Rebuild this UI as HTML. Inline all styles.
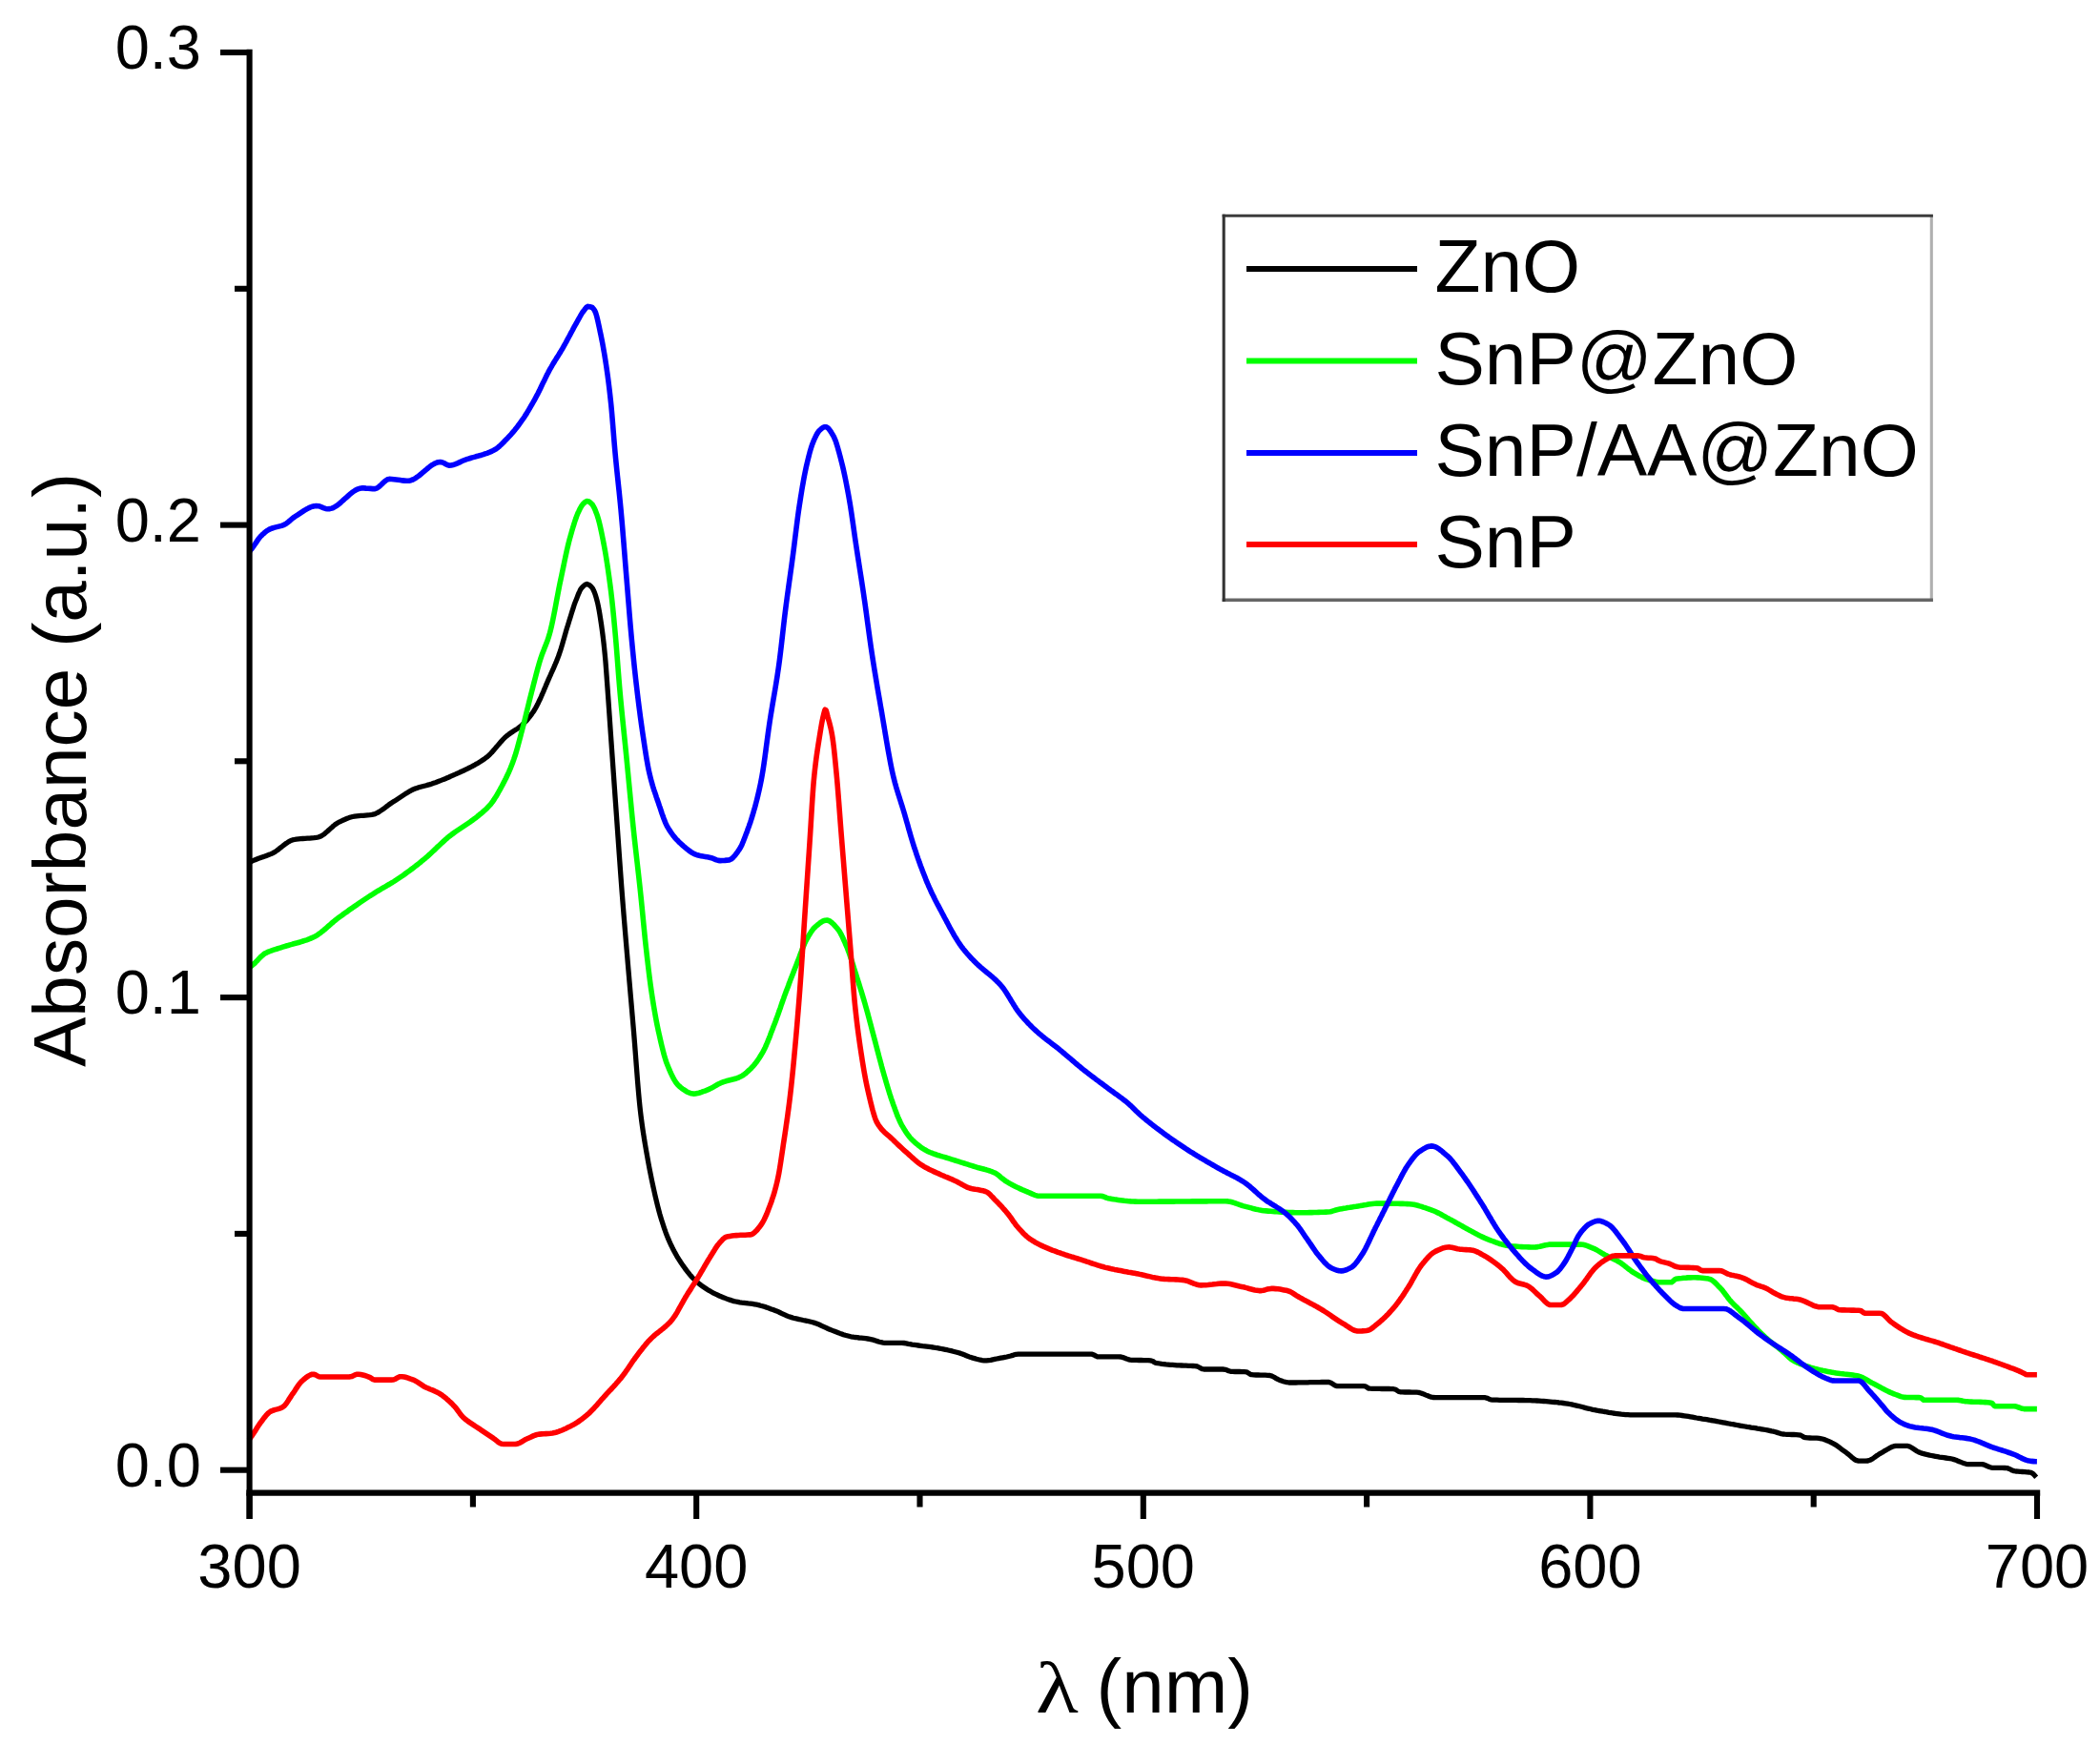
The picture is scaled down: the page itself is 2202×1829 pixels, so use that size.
<!DOCTYPE html>
<html><head><meta charset="utf-8"><title>UV-vis absorbance</title>
<style>
html,body{margin:0;padding:0;background:#fff;}
svg{display:block;}
text{font-family:"Liberation Sans",sans-serif;fill:#000;}
.tl text{font-size:65px;}
.lg text{font-size:78.5px;}
.c{fill:none;stroke-width:5.6;stroke-linejoin:round;stroke-linecap:butt;}
</style></head><body>
<svg width="2202" height="1829" viewBox="0 0 2202 1829">
<rect width="2202" height="1829" fill="#fff"/>
<g class="c">
<polyline stroke="#000" stroke-width="5.3" points="261.0,905.0 262.6,904.1 264.1,903.2 265.8,902.4 267.5,901.7 269.3,901.0 271.1,900.3 272.9,899.6 274.8,899.0 276.7,898.4 278.5,897.7 280.4,897.0 282.2,896.3 284.0,895.6 285.7,894.8 287.4,893.9 289.0,892.9 290.5,891.9 291.9,890.8 293.3,889.7 294.7,888.6 296.1,887.5 297.5,886.4 298.9,885.3 300.4,884.3 301.8,883.3 303.4,882.4 305.0,881.5 306.7,880.9 308.6,880.5 310.7,880.1 313.0,879.9 315.2,879.7 317.5,879.5 319.9,879.4 322.3,879.2 324.6,879.1 326.9,878.9 329.2,878.7 331.5,878.4 333.7,878.0 335.7,877.3 337.5,876.4 339.0,875.4 340.5,874.3 341.9,873.1 343.2,872.0 344.5,870.8 345.8,869.6 347.1,868.4 348.5,867.2 349.8,866.0 351.1,865.0 352.6,863.9 354.0,863.0 355.6,862.2 357.3,861.4 359.0,860.5 360.7,859.8 362.4,859.0 364.2,858.3 366.0,857.6 367.8,857.0 369.7,856.5 371.8,856.1 374.0,855.8 376.2,855.6 378.5,855.4 380.8,855.3 383.2,855.1 385.5,854.9 387.8,854.7 390.0,854.4 392.2,853.9 394.1,853.2 395.8,852.4 397.5,851.4 399.0,850.4 400.5,849.4 402.0,848.3 403.4,847.3 404.9,846.2 406.3,845.1 407.7,844.0 409.1,843.0 410.6,842.0 412.1,841.1 413.7,840.1 415.2,839.1 416.7,838.1 418.2,837.1 419.7,836.1 421.2,835.1 422.7,834.1 424.2,833.1 425.7,832.1 427.3,831.2 428.8,830.3 430.4,829.4 432.0,828.5 433.7,827.7 435.4,827.0 437.2,826.4 439.1,825.8 441.0,825.2 442.9,824.7 444.9,824.2 446.9,823.7 448.9,823.1 450.9,822.6 452.8,822.0 454.7,821.3 456.5,820.7 458.4,820.0 460.2,819.3 462.0,818.6 463.8,817.9 465.6,817.2 467.4,816.5 469.1,815.7 470.9,815.0 472.6,814.2 474.4,813.4 476.1,812.6 477.8,811.9 479.5,811.1 481.3,810.3 483.0,809.5 484.7,808.8 486.4,808.0 488.1,807.2 489.8,806.3 491.5,805.5 493.2,804.7 494.8,803.8 496.5,802.9 498.1,802.1 499.7,801.1 501.3,800.2 502.8,799.3 504.4,798.3 505.9,797.3 507.4,796.3 508.9,795.2 510.3,794.2 511.7,793.0 513.1,791.8 514.3,790.5 515.6,789.2 516.8,787.8 517.9,786.5 519.1,785.1 520.2,783.8 521.4,782.4 522.5,781.1 523.7,779.7 524.8,778.4 526.0,777.1 527.2,775.8 528.4,774.5 529.6,773.3 530.9,772.2 532.3,771.1 533.7,770.0 535.1,769.0 536.6,768.0 538.1,767.0 539.6,766.1 541.2,765.1 542.7,764.1 544.2,763.0 545.6,761.9 547.0,760.7 548.3,759.5 549.6,758.3 550.9,757.0 552.1,755.7 553.3,754.3 554.4,752.9 555.5,751.5 556.6,750.1 557.7,748.6 558.7,747.1 559.8,745.6 560.7,744.0 561.7,742.4 562.6,740.8 563.4,739.1 564.3,737.4 565.1,735.7 565.9,734.0 566.7,732.3 567.5,730.5 568.2,728.8 569.0,727.0 569.8,725.3 570.5,723.5 571.2,721.8 572.0,720.0 572.7,718.2 573.5,716.5 574.2,714.7 575.0,713.0 575.7,711.3 576.5,709.5 577.3,707.8 578.0,706.1 578.8,704.4 579.6,702.6 580.4,700.9 581.1,699.2 581.9,697.4 582.6,695.6 583.4,693.8 584.1,692.0 584.8,690.2 585.5,688.4 586.2,686.5 586.8,684.6 587.5,682.7 588.1,680.8 588.7,678.8 589.3,676.8 589.9,674.7 590.5,672.6 591.1,670.5 591.7,668.4 592.3,666.3 592.9,664.2 593.5,662.1 594.1,660.1 594.7,658.1 595.3,656.2 595.9,654.2 596.5,652.3 597.1,650.3 597.7,648.4 598.3,646.4 598.9,644.5 599.5,642.5 600.1,640.6 600.7,638.8 601.3,636.9 601.9,635.0 602.5,633.2 603.2,631.4 603.9,629.6 604.6,627.9 605.3,626.1 606.0,624.3 606.7,622.5 607.5,620.8 608.2,619.2 609.1,617.7 610.1,616.4 611.3,615.2 612.5,614.0 613.8,613.0 615.4,612.5 617.9,613.4 619.3,614.7 620.6,616.0 621.7,617.6 622.6,619.5 623.4,621.4 624.1,623.3 624.7,625.3 625.3,627.3 625.9,629.5 626.5,631.8 627.1,634.5 627.7,637.5 628.3,640.8 628.9,644.3 629.5,648.1 630.1,652.0 630.7,656.0 631.3,660.3 631.9,664.8 632.5,669.7 633.1,674.9 633.7,680.5 634.3,686.5 634.9,693.1 635.5,700.7 636.1,709.0 636.7,717.2 637.3,725.5 637.9,734.0 638.5,742.6 639.1,751.3 639.7,760.0 640.3,768.7 640.9,777.2 641.5,785.7 642.1,794.3 642.7,802.8 643.3,811.3 643.9,819.8 644.5,828.2 645.1,836.7 645.7,845.1 646.3,853.5 646.9,862.0 647.5,870.5 648.1,879.0 648.7,887.5 649.3,896.0 649.9,904.4 650.5,912.8 651.1,921.0 651.7,929.1 652.3,937.0 652.9,944.7 653.5,952.3 654.1,959.7 654.7,967.0 655.3,974.2 655.9,981.4 656.5,988.5 657.1,995.6 657.7,1002.6 658.3,1009.7 658.9,1016.8 659.5,1023.8 660.1,1030.8 660.7,1037.8 661.3,1044.7 661.9,1051.6 662.5,1058.5 663.1,1065.5 663.7,1072.5 664.3,1079.5 664.9,1086.8 665.5,1094.3 666.1,1102.0 666.7,1109.9 667.3,1117.7 667.9,1125.5 668.5,1133.2 669.1,1140.5 669.7,1147.5 670.3,1154.1 670.9,1160.1 671.5,1165.5 672.1,1170.5 672.7,1175.1 673.3,1179.6 673.9,1183.8 674.5,1187.8 675.1,1191.7 675.7,1195.5 676.3,1199.1 676.9,1202.6 677.5,1206.1 678.1,1209.5 678.7,1212.9 679.3,1216.3 679.9,1219.6 680.5,1222.9 681.1,1226.0 681.7,1229.1 682.3,1232.1 682.9,1235.1 683.5,1238.0 684.1,1240.8 684.7,1243.6 685.3,1246.3 685.9,1249.0 686.5,1251.7 687.1,1254.3 687.7,1256.8 688.3,1259.4 688.9,1261.9 689.5,1264.3 690.1,1266.7 690.7,1269.0 691.3,1271.2 691.9,1273.4 692.5,1275.4 693.1,1277.4 693.7,1279.4 694.3,1281.3 694.9,1283.1 695.5,1285.0 696.1,1286.9 696.7,1288.7 697.4,1290.5 698.0,1292.4 698.7,1294.2 699.4,1295.9 700.1,1297.7 700.8,1299.5 701.6,1301.2 702.3,1302.9 703.1,1304.6 703.9,1306.3 704.7,1307.9 705.5,1309.6 706.4,1311.2 707.2,1312.8 708.1,1314.4 709.0,1316.0 709.9,1317.6 710.8,1319.1 711.8,1320.7 712.8,1322.2 713.7,1323.7 714.7,1325.1 715.7,1326.6 716.8,1328.1 717.8,1329.5 718.8,1331.0 719.9,1332.4 721.0,1333.8 722.1,1335.2 723.2,1336.6 724.3,1337.9 725.5,1339.2 726.7,1340.5 727.9,1341.7 729.2,1342.9 730.5,1344.1 731.8,1345.2 733.1,1346.3 734.5,1347.4 735.9,1348.5 737.4,1349.5 738.9,1350.5 740.4,1351.5 741.9,1352.5 743.4,1353.4 745.0,1354.3 746.6,1355.2 748.2,1356.1 749.8,1356.9 751.5,1357.7 753.2,1358.5 754.9,1359.3 756.7,1360.0 758.4,1360.7 760.2,1361.4 762.0,1362.1 763.8,1362.8 765.7,1363.4 767.6,1364.0 769.5,1364.6 771.5,1365.0 773.6,1365.4 775.7,1365.8 777.9,1366.1 780.1,1366.3 782.3,1366.6 784.5,1366.9 786.8,1367.1 789.0,1367.4 791.2,1367.8 793.3,1368.2 795.4,1368.6 797.4,1369.2 799.4,1369.7 801.3,1370.3 803.2,1370.9 805.1,1371.6 806.9,1372.2 808.8,1372.9 810.6,1373.5 812.4,1374.2 814.3,1374.9 816.0,1375.7 817.7,1376.5 819.4,1377.3 821.1,1378.1 822.8,1378.9 824.5,1379.7 826.3,1380.4 828.1,1381.0 830.0,1381.6 831.9,1382.2 833.9,1382.7 835.9,1383.1 837.9,1383.6 840.0,1384.0 842.0,1384.5 844.1,1384.9 846.2,1385.3 848.2,1385.8 850.2,1386.3 852.2,1386.8 854.2,1387.4 856.1,1388.0 857.9,1388.7 859.7,1389.5 861.4,1390.3 863.1,1391.1 864.8,1391.9 866.5,1392.7 868.2,1393.5 870.0,1394.2 871.7,1394.9 873.5,1395.6 875.3,1396.3 877.2,1397.0 879.0,1397.7 880.8,1398.4 882.6,1399.0 884.4,1399.7 886.3,1400.3 888.2,1400.8 890.2,1401.3 892.2,1401.8 894.3,1402.1 896.5,1402.5 898.7,1402.7 900.9,1403.0 903.2,1403.2 905.4,1403.4 907.7,1403.7 909.9,1404.0 912.1,1404.3 914.2,1404.8 916.2,1405.4 918.1,1406.0 920.0,1406.6 921.9,1407.2 923.9,1407.7 925.9,1408.1 928.0,1408.3 930.5,1408.3 933.0,1408.3 935.5,1408.3 938.0,1408.3 940.5,1408.3 943.0,1408.3 945.5,1408.3 947.9,1408.5 950.2,1408.8 952.3,1409.3 954.3,1409.7 956.4,1410.1 958.5,1410.4 960.7,1410.7 962.9,1411.0 965.1,1411.3 967.4,1411.6 969.6,1411.8 971.8,1412.1 974.0,1412.4 976.2,1412.7 978.4,1413.0 980.6,1413.4 982.8,1413.7 984.9,1414.1 987.0,1414.5 989.1,1414.9 991.2,1415.3 993.3,1415.7 995.3,1416.2 997.4,1416.7 999.4,1417.2 1001.4,1417.7 1003.4,1418.2 1005.3,1418.8 1007.3,1419.4 1009.1,1420.0 1010.9,1420.7 1012.7,1421.5 1014.5,1422.2 1016.3,1422.9 1018.1,1423.5 1020.0,1424.1 1021.9,1424.6 1023.9,1425.2 1025.9,1425.7 1027.8,1426.2 1029.9,1426.6 1032.0,1426.9 1034.4,1426.9 1036.7,1426.6 1038.9,1426.3 1041.0,1425.8 1043.1,1425.4 1045.2,1425.0 1047.3,1424.6 1049.4,1424.2 1051.5,1423.8 1053.6,1423.4 1055.7,1423.0 1057.7,1422.5 1059.8,1422.0 1061.8,1421.4 1063.6,1420.8 1065.5,1420.3 1067.7,1420.2 1070.2,1420.2 1072.7,1420.2 1075.2,1420.2 1077.7,1420.2 1080.2,1420.2 1082.7,1420.2 1085.2,1420.2 1087.7,1420.2 1090.2,1420.2 1092.7,1420.2 1095.2,1420.2 1097.7,1420.2 1100.2,1420.2 1102.7,1420.2 1105.2,1420.2 1107.7,1420.2 1110.2,1420.2 1112.7,1420.2 1115.2,1420.2 1117.7,1420.2 1120.2,1420.2 1122.7,1420.2 1125.2,1420.2 1127.7,1420.2 1130.2,1420.2 1132.7,1420.2 1135.2,1420.2 1137.7,1420.2 1140.2,1420.2 1142.7,1420.2 1145.2,1420.2 1147.7,1421.2 1149.2,1422.2 1150.7,1422.9 1152.8,1422.9 1155.3,1422.9 1157.8,1422.9 1160.3,1422.9 1162.8,1422.9 1165.3,1422.9 1167.8,1422.9 1170.3,1422.9 1172.8,1422.9 1175.3,1423.0 1177.4,1423.6 1179.3,1424.3 1181.1,1425.0 1182.9,1425.6 1184.8,1426.1 1187.0,1426.3 1189.4,1426.4 1191.8,1426.4 1194.2,1426.5 1196.7,1426.5 1199.1,1426.6 1201.6,1426.6 1204.0,1426.7 1206.4,1426.9 1208.8,1427.5 1210.3,1428.6 1211.8,1429.3 1213.9,1429.7 1216.0,1430.0 1218.1,1430.4 1220.3,1430.6 1222.6,1430.9 1224.9,1431.1 1227.2,1431.3 1229.5,1431.4 1231.8,1431.6 1234.1,1431.8 1236.5,1431.9 1238.9,1432.0 1241.3,1432.1 1243.7,1432.2 1246.1,1432.3 1248.5,1432.4 1250.9,1432.5 1253.2,1432.7 1255.5,1433.0 1257.4,1434.0 1259.0,1434.9 1260.5,1435.7 1262.3,1436.0 1264.8,1436.0 1267.3,1436.0 1269.8,1436.0 1272.3,1436.0 1274.8,1436.0 1277.3,1436.0 1279.8,1436.0 1282.3,1436.0 1284.8,1436.3 1286.8,1437.0 1288.5,1437.8 1290.3,1438.3 1292.5,1438.4 1294.9,1438.5 1297.4,1438.5 1299.8,1438.5 1302.3,1438.6 1304.7,1438.7 1307.1,1438.8 1309.4,1440.2 1310.8,1441.2 1312.3,1441.7 1314.6,1441.9 1317.0,1442.0 1319.4,1442.0 1321.8,1442.1 1324.3,1442.1 1326.8,1442.2 1329.2,1442.3 1331.6,1442.5 1333.7,1443.1 1335.5,1444.0 1337.1,1444.9 1338.7,1445.9 1340.2,1446.7 1341.8,1447.5 1343.6,1448.1 1345.5,1448.7 1347.5,1449.2 1349.4,1449.7 1351.5,1450.0 1353.9,1450.0 1356.4,1450.0 1358.9,1450.0 1361.3,1449.9 1363.8,1449.9 1366.3,1449.9 1368.7,1449.8 1371.2,1449.8 1373.6,1449.7 1376.1,1449.7 1378.6,1449.6 1381.0,1449.6 1383.5,1449.6 1385.9,1449.5 1388.4,1449.5 1390.9,1449.5 1393.4,1449.5 1395.6,1450.3 1397.2,1451.3 1398.8,1452.3 1400.3,1453.1 1402.1,1453.6 1404.3,1453.6 1406.8,1453.6 1409.3,1453.6 1411.8,1453.6 1414.3,1453.6 1416.8,1453.6 1419.3,1453.6 1421.8,1453.6 1424.3,1453.6 1426.8,1453.6 1429.3,1453.6 1431.8,1453.8 1433.5,1455.0 1434.9,1456.0 1436.6,1456.2 1439.0,1456.3 1441.4,1456.4 1443.9,1456.4 1446.4,1456.4 1448.8,1456.5 1451.3,1456.5 1453.8,1456.5 1456.3,1456.5 1458.7,1456.6 1461.2,1456.7 1463.6,1457.3 1465.1,1458.4 1466.6,1459.4 1468.2,1459.8 1470.6,1459.9 1473.0,1460.0 1475.4,1460.0 1477.9,1460.0 1480.4,1460.1 1482.8,1460.1 1485.3,1460.2 1487.7,1460.4 1489.8,1461.0 1491.7,1461.6 1493.5,1462.3 1495.3,1463.1 1497.1,1463.8 1498.8,1464.5 1500.7,1465.1 1502.6,1465.5 1504.8,1465.7 1507.3,1465.7 1509.8,1465.7 1512.3,1465.7 1514.8,1465.7 1517.3,1465.7 1519.8,1465.7 1522.3,1465.7 1524.8,1465.7 1527.3,1465.7 1529.8,1465.7 1532.3,1465.7 1534.8,1465.7 1537.3,1465.7 1539.8,1465.7 1542.3,1465.7 1544.8,1465.7 1547.3,1465.7 1549.8,1465.7 1552.3,1465.7 1554.8,1465.7 1557.3,1465.7 1559.7,1466.4 1561.4,1467.2 1563.1,1467.9 1565.0,1468.1 1567.4,1468.2 1569.9,1468.2 1572.3,1468.3 1574.8,1468.3 1577.3,1468.4 1579.7,1468.4 1582.2,1468.4 1584.7,1468.4 1587.2,1468.4 1589.7,1468.4 1592.2,1468.5 1594.6,1468.5 1597.1,1468.5 1599.6,1468.6 1602.0,1468.6 1604.5,1468.7 1606.9,1468.8 1609.3,1468.9 1611.7,1469.0 1614.0,1469.1 1616.4,1469.3 1618.7,1469.5 1621.0,1469.7 1623.4,1469.9 1625.7,1470.1 1627.9,1470.3 1630.2,1470.5 1632.5,1470.7 1634.7,1471.0 1637.0,1471.2 1639.2,1471.5 1641.5,1471.8 1643.7,1472.1 1645.8,1472.5 1647.9,1472.9 1650.0,1473.4 1652.0,1473.8 1654.1,1474.3 1656.1,1474.8 1658.1,1475.3 1660.0,1475.8 1662.0,1476.4 1664.0,1476.9 1666.0,1477.3 1668.0,1477.8 1670.1,1478.3 1672.1,1478.7 1674.2,1479.1 1676.3,1479.5 1678.5,1479.8 1680.6,1480.2 1682.8,1480.5 1684.9,1480.9 1687.0,1481.3 1689.2,1481.6 1691.3,1482.0 1693.5,1482.3 1695.7,1482.6 1697.9,1482.9 1700.1,1483.2 1702.3,1483.4 1704.6,1483.6 1707.0,1483.7 1709.4,1483.8 1711.8,1483.8 1714.3,1483.8 1716.8,1483.8 1719.3,1483.8 1721.8,1483.8 1724.3,1483.8 1726.8,1483.8 1729.3,1483.8 1731.8,1483.8 1734.3,1483.8 1736.8,1483.8 1739.3,1483.8 1741.8,1483.8 1744.3,1483.8 1746.8,1483.8 1749.3,1483.8 1751.8,1483.8 1754.3,1483.8 1756.8,1483.9 1759.2,1484.0 1761.5,1484.2 1763.8,1484.5 1766.0,1484.8 1768.2,1485.1 1770.4,1485.4 1772.5,1485.8 1774.6,1486.2 1776.7,1486.6 1778.9,1487.0 1781.0,1487.3 1783.1,1487.7 1785.2,1488.1 1787.4,1488.4 1789.6,1488.7 1791.7,1489.1 1793.8,1489.5 1796.0,1489.8 1798.1,1490.2 1800.2,1490.6 1802.3,1491.0 1804.4,1491.4 1806.6,1491.8 1808.7,1492.2 1810.8,1492.6 1812.9,1493.0 1815.0,1493.4 1817.1,1493.7 1819.2,1494.1 1821.3,1494.5 1823.4,1494.9 1825.5,1495.3 1827.7,1495.7 1829.8,1496.0 1831.9,1496.4 1834.1,1496.7 1836.2,1497.1 1838.4,1497.4 1840.6,1497.7 1842.7,1498.1 1844.9,1498.4 1847.0,1498.8 1849.2,1499.2 1851.3,1499.5 1853.4,1499.9 1855.5,1500.3 1857.6,1500.8 1859.6,1501.2 1861.7,1501.8 1863.6,1502.4 1865.5,1503.0 1867.3,1503.6 1869.3,1504.0 1871.5,1504.2 1873.8,1504.3 1876.2,1504.4 1878.7,1504.5 1881.1,1504.5 1883.5,1504.6 1885.9,1504.8 1888.2,1505.2 1890.0,1506.2 1891.5,1507.2 1893.1,1507.7 1895.4,1507.9 1897.7,1508.0 1900.1,1508.1 1902.6,1508.1 1905.0,1508.2 1907.4,1508.4 1909.7,1508.8 1911.7,1509.3 1913.6,1509.9 1915.5,1510.7 1917.2,1511.4 1918.9,1512.2 1920.6,1513.0 1922.3,1513.9 1924.0,1514.8 1925.5,1515.8 1927.0,1516.8 1928.5,1517.9 1929.9,1519.0 1931.3,1520.1 1932.7,1521.1 1934.2,1522.2 1935.6,1523.2 1937.1,1524.3 1938.5,1525.4 1939.8,1526.6 1941.2,1527.8 1942.5,1528.9 1943.9,1530.0 1945.3,1531.0 1946.9,1531.7 1948.7,1532.1 1951.1,1532.1 1953.6,1532.1 1956.1,1532.1 1958.6,1532.0 1960.8,1531.3 1962.5,1530.4 1964.1,1529.4 1965.6,1528.4 1967.0,1527.3 1968.5,1526.3 1969.9,1525.3 1971.5,1524.4 1973.1,1523.5 1974.7,1522.6 1976.3,1521.6 1977.8,1520.7 1979.4,1519.8 1980.9,1518.9 1982.6,1518.0 1984.2,1517.3 1986.0,1516.7 1988.0,1516.3 1990.3,1516.3 1992.8,1516.3 1995.3,1516.3 1997.8,1516.3 2000.3,1516.4 2002.4,1517.1 2004.1,1518.0 2005.7,1519.0 2007.2,1520.0 2008.7,1521.0 2010.2,1522.0 2011.8,1522.8 2013.4,1523.5 2015.3,1524.1 2017.3,1524.6 2019.2,1525.2 2021.2,1525.6 2023.3,1526.1 2025.3,1526.5 2027.4,1526.9 2029.5,1527.3 2031.6,1527.7 2033.7,1528.1 2035.9,1528.4 2038.1,1528.7 2040.3,1529.0 2042.5,1529.3 2044.7,1529.6 2046.8,1530.0 2048.9,1530.6 2050.8,1531.2 2052.6,1532.0 2054.3,1532.7 2056.1,1533.4 2057.9,1534.1 2059.7,1534.8 2061.6,1535.3 2063.6,1535.6 2065.9,1535.7 2068.4,1535.7 2070.9,1535.7 2073.4,1535.7 2075.9,1535.7 2078.4,1535.7 2080.7,1536.2 2082.6,1537.0 2084.3,1537.8 2086.0,1538.5 2087.8,1539.1 2089.8,1539.3 2092.3,1539.4 2094.8,1539.4 2097.2,1539.4 2099.7,1539.4 2102.2,1539.5 2104.6,1539.6 2106.7,1540.4 2108.4,1541.2 2110.0,1542.1 2111.7,1542.7 2113.7,1543.0 2116.0,1543.2 2118.3,1543.4 2120.7,1543.5 2123.1,1543.6 2125.4,1543.8 2127.7,1544.0 2129.9,1544.4 2131.8,1545.6 2133.1,1546.9 2134.3,1548.3 2135.2,1549.3"/>
<polyline stroke="#0f0" points="261.0,1015.0 262.5,1014.0 263.9,1012.9 265.3,1011.7 266.7,1010.5 268.0,1009.2 269.2,1007.9 270.4,1006.7 271.6,1005.4 272.8,1004.1 274.1,1002.9 275.4,1001.8 276.7,1000.7 278.2,999.7 279.8,998.9 281.5,998.2 283.2,997.5 285.0,996.8 286.9,996.2 288.8,995.6 290.7,995.0 292.6,994.4 294.5,993.8 296.4,993.2 298.3,992.6 300.2,992.0 302.1,991.5 304.1,990.9 306.0,990.4 308.0,989.8 310.0,989.3 311.9,988.8 313.9,988.2 315.8,987.6 317.7,987.0 319.6,986.4 321.5,985.8 323.3,985.1 325.2,984.4 326.9,983.6 328.7,982.9 330.4,982.0 332.0,981.1 333.5,980.1 335.0,979.0 336.5,977.9 337.9,976.8 339.3,975.7 340.7,974.5 342.0,973.4 343.3,972.2 344.7,971.0 346.0,969.9 347.3,968.7 348.7,967.5 350.0,966.4 351.4,965.3 352.7,964.2 354.1,963.1 355.6,962.0 357.0,961.0 358.5,959.9 359.9,958.9 361.4,957.8 362.8,956.8 364.3,955.8 365.7,954.7 367.2,953.7 368.7,952.7 370.1,951.6 371.6,950.6 373.1,949.6 374.6,948.6 376.1,947.5 377.5,946.5 379.0,945.5 380.5,944.5 382.0,943.5 383.5,942.5 385.0,941.5 386.5,940.5 388.0,939.5 389.5,938.6 391.1,937.6 392.6,936.6 394.1,935.6 395.6,934.7 397.2,933.8 398.8,932.8 400.3,931.9 401.9,931.0 403.5,930.1 405.1,929.2 406.7,928.2 408.3,927.3 409.8,926.4 411.4,925.5 413.0,924.5 414.5,923.5 416.0,922.5 417.5,921.5 419.0,920.5 420.5,919.5 422.0,918.5 423.5,917.4 424.9,916.4 426.4,915.3 427.8,914.3 429.3,913.2 430.7,912.1 432.1,911.1 433.6,910.0 435.0,908.9 436.4,907.8 437.8,906.7 439.2,905.6 440.6,904.5 441.9,903.4 443.3,902.2 444.7,901.1 446.1,900.0 447.4,898.8 448.8,897.6 450.1,896.4 451.4,895.2 452.7,894.0 454.0,892.8 455.3,891.6 456.6,890.4 457.8,889.1 459.1,887.9 460.4,886.7 461.7,885.5 463.0,884.3 464.3,883.1 465.6,881.9 466.9,880.7 468.2,879.6 469.5,878.4 470.9,877.3 472.3,876.2 473.7,875.1 475.1,874.1 476.6,873.0 478.0,872.0 479.5,871.0 481.0,870.0 482.5,869.0 484.0,868.0 485.5,867.0 487.0,866.0 488.5,865.0 490.0,864.0 491.5,863.0 493.0,862.0 494.4,860.9 495.9,859.9 497.3,858.8 498.8,857.7 500.2,856.6 501.5,855.5 502.9,854.3 504.3,853.2 505.7,852.1 507.0,850.9 508.4,849.7 509.7,848.5 511.0,847.2 512.2,845.9 513.4,844.6 514.6,843.3 515.7,841.8 516.8,840.4 517.8,838.9 518.8,837.3 519.8,835.8 520.8,834.2 521.7,832.6 522.6,831.0 523.5,829.4 524.4,827.8 525.3,826.1 526.2,824.5 527.1,822.9 527.9,821.2 528.8,819.6 529.6,817.9 530.5,816.2 531.3,814.5 532.1,812.8 532.9,811.1 533.7,809.3 534.4,807.6 535.2,805.8 535.9,804.0 536.6,802.2 537.3,800.4 538.0,798.5 538.7,796.6 539.3,794.7 540.0,792.8 540.6,790.9 541.2,788.9 541.8,786.8 542.4,784.7 543.0,782.5 543.6,780.3 544.2,778.0 544.8,775.8 545.4,773.5 546.0,771.2 546.6,768.9 547.2,766.7 547.8,764.4 548.4,762.1 549.0,759.8 549.6,757.5 550.2,755.1 550.8,752.6 551.4,750.2 552.0,747.7 552.6,745.3 553.2,742.8 553.8,740.3 554.4,737.9 555.0,735.4 555.6,733.0 556.2,730.6 556.8,728.3 557.4,725.9 558.0,723.6 558.6,721.3 559.2,718.9 559.8,716.5 560.4,714.2 561.0,711.9 561.6,709.6 562.2,707.3 562.8,705.0 563.4,702.8 564.0,700.6 564.6,698.4 565.2,696.3 565.8,694.3 566.4,692.3 567.0,690.4 567.6,688.6 568.2,686.8 568.9,685.0 569.6,683.2 570.3,681.4 571.0,679.6 571.7,677.9 572.4,676.1 573.1,674.2 573.8,672.4 574.5,670.5 575.1,668.6 575.7,666.6 576.3,664.6 576.9,662.4 577.5,660.0 578.1,657.5 578.7,654.8 579.3,652.1 579.9,649.2 580.5,646.2 581.1,643.2 581.7,640.1 582.3,636.9 582.9,633.7 583.5,630.5 584.1,627.4 584.7,624.2 585.3,621.0 585.9,617.9 586.5,614.8 587.1,611.8 587.7,608.9 588.3,606.1 588.9,603.2 589.5,600.4 590.1,597.5 590.7,594.6 591.3,591.7 591.9,588.8 592.5,586.0 593.1,583.2 593.7,580.4 594.3,577.7 594.9,575.0 595.5,572.5 596.1,570.0 596.7,567.6 597.3,565.3 597.9,563.2 598.5,561.0 599.1,558.9 599.7,556.8 600.3,554.7 600.9,552.7 601.5,550.8 602.1,548.9 602.7,547.0 603.3,545.2 604.0,543.3 604.6,541.5 605.3,539.8 606.0,538.0 606.8,536.4 607.6,534.7 608.4,533.1 609.3,531.5 610.2,530.1 611.2,528.8 612.4,527.6 613.7,526.4 615.1,525.6 616.9,525.7 618.7,526.9 620.1,528.1 621.4,529.5 622.4,531.3 623.3,533.0 624.1,534.8 624.8,536.7 625.5,538.5 626.2,540.4 626.8,542.3 627.4,544.3 628.0,546.5 628.6,548.9 629.2,551.4 629.8,554.1 630.4,556.9 631.0,559.8 631.6,562.7 632.2,565.8 632.8,568.9 633.4,572.0 634.0,575.3 634.6,578.6 635.2,582.1 635.8,585.8 636.4,589.6 637.0,593.5 637.6,597.6 638.2,601.8 638.8,606.1 639.4,610.6 640.0,615.2 640.6,619.9 641.2,625.0 641.8,630.4 642.4,636.0 643.0,641.9 643.6,648.1 644.2,654.4 644.8,660.8 645.4,667.4 646.0,674.4 646.6,681.9 647.2,689.6 647.8,697.4 648.4,705.2 649.0,712.8 649.6,720.1 650.2,726.9 650.8,733.4 651.4,739.8 652.0,745.9 652.6,752.0 653.2,757.9 653.8,763.8 654.4,769.6 655.0,775.4 655.6,781.2 656.2,787.1 656.8,793.1 657.4,799.2 658.0,805.4 658.6,811.7 659.2,817.9 659.8,824.2 660.4,830.5 661.0,836.8 661.6,843.1 662.2,849.3 662.8,855.4 663.4,861.4 664.0,867.3 664.6,873.0 665.2,878.6 665.8,884.1 666.4,889.5 667.0,894.8 667.6,900.1 668.2,905.3 668.8,910.6 669.4,915.9 670.0,921.3 670.6,926.7 671.2,932.3 671.8,938.0 672.4,943.9 673.0,950.0 673.6,956.1 674.2,962.3 674.8,968.5 675.4,974.6 676.0,980.6 676.6,986.4 677.2,992.0 677.8,997.3 678.4,1002.6 679.0,1007.8 679.6,1012.9 680.2,1018.0 680.8,1022.8 681.4,1027.6 682.0,1032.1 682.6,1036.5 683.2,1040.6 683.8,1044.6 684.4,1048.5 685.0,1052.2 685.6,1055.9 686.2,1059.4 686.8,1062.9 687.4,1066.2 688.0,1069.5 688.6,1072.6 689.2,1075.6 689.8,1078.5 690.4,1081.3 691.0,1084.0 691.6,1086.7 692.2,1089.4 692.8,1092.0 693.4,1094.6 694.0,1097.1 694.6,1099.5 695.2,1101.9 695.8,1104.2 696.4,1106.4 697.0,1108.5 697.6,1110.5 698.2,1112.4 698.8,1114.3 699.5,1116.0 700.2,1117.8 700.9,1119.5 701.6,1121.3 702.4,1123.0 703.1,1124.7 703.9,1126.4 704.7,1128.1 705.5,1129.7 706.4,1131.3 707.3,1132.9 708.2,1134.4 709.2,1135.8 710.2,1137.1 711.4,1138.4 712.7,1139.5 714.0,1140.6 715.4,1141.7 716.8,1142.7 718.3,1143.7 719.8,1144.7 721.4,1145.5 723.1,1146.2 724.9,1146.8 726.9,1147.1 729.3,1147.0 731.5,1146.6 733.6,1146.0 735.5,1145.4 737.3,1144.7 739.2,1144.1 741.0,1143.4 742.8,1142.7 744.5,1141.8 746.2,1141.0 747.8,1140.1 749.4,1139.1 751.0,1138.2 752.6,1137.3 754.2,1136.5 755.9,1135.7 757.6,1135.0 759.4,1134.4 761.3,1133.8 763.3,1133.3 765.3,1132.8 767.3,1132.3 769.2,1131.8 771.2,1131.2 773.1,1130.6 775.0,1129.8 776.7,1129.0 778.4,1128.1 779.9,1127.1 781.4,1126.0 782.8,1124.8 784.1,1123.6 785.4,1122.4 786.7,1121.2 788.0,1119.9 789.2,1118.6 790.4,1117.3 791.6,1115.9 792.7,1114.4 793.8,1113.0 794.8,1111.5 795.8,1110.0 796.8,1108.4 797.8,1106.9 798.7,1105.3 799.7,1103.7 800.6,1102.1 801.4,1100.4 802.3,1098.7 803.1,1096.9 803.8,1095.1 804.6,1093.4 805.3,1091.6 806.0,1089.8 806.8,1088.0 807.5,1086.2 808.1,1084.3 808.8,1082.5 809.5,1080.7 810.2,1078.9 810.9,1077.1 811.6,1075.3 812.3,1073.5 813.0,1071.7 813.7,1069.8 814.3,1068.0 815.0,1066.1 815.7,1064.3 816.3,1062.4 817.0,1060.6 817.6,1058.7 818.3,1056.9 818.9,1055.0 819.5,1053.2 820.2,1051.3 820.8,1049.5 821.5,1047.6 822.1,1045.8 822.8,1043.9 823.5,1042.1 824.1,1040.3 824.8,1038.5 825.5,1036.7 826.2,1034.9 826.9,1033.0 827.5,1031.2 828.2,1029.4 828.9,1027.6 829.6,1025.8 830.3,1024.0 831.0,1022.2 831.7,1020.4 832.4,1018.6 833.1,1016.8 833.8,1015.0 834.5,1013.2 835.2,1011.4 835.9,1009.6 836.6,1007.8 837.3,1006.0 838.0,1004.2 838.7,1002.3 839.3,1000.5 840.0,998.7 840.7,996.9 841.4,995.1 842.1,993.3 842.8,991.6 843.5,989.9 844.3,988.2 845.1,986.6 846.0,985.0 846.9,983.4 847.7,981.8 848.7,980.2 849.6,978.7 850.6,977.2 851.6,975.8 852.6,974.4 853.7,973.1 855.0,972.0 856.3,970.8 857.6,969.7 859.0,968.6 860.4,967.5 861.9,966.6 863.4,965.7 865.2,965.2 867.2,965.0 869.5,965.7 871.2,966.8 872.6,968.0 873.9,969.2 875.1,970.5 876.3,971.9 877.5,973.2 878.7,974.6 879.8,976.1 880.8,977.7 881.7,979.4 882.6,981.1 883.4,982.8 884.2,984.5 885.0,986.3 885.8,988.0 886.5,989.8 887.3,991.6 888.0,993.3 888.7,995.1 889.4,997.0 890.1,998.8 890.8,1000.7 891.4,1002.6 892.0,1004.5 892.7,1006.4 893.3,1008.3 893.9,1010.2 894.5,1012.1 895.1,1014.1 895.7,1016.0 896.3,1017.9 896.9,1019.8 897.5,1021.7 898.1,1023.6 898.7,1025.5 899.3,1027.4 899.9,1029.3 900.5,1031.2 901.1,1033.1 901.7,1035.0 902.3,1037.0 902.9,1038.9 903.5,1040.9 904.1,1042.9 904.7,1044.9 905.3,1046.9 905.9,1048.9 906.5,1051.0 907.1,1053.1 907.7,1055.2 908.3,1057.3 908.9,1059.4 909.5,1061.6 910.1,1063.8 910.7,1066.1 911.3,1068.3 911.9,1070.6 912.5,1072.9 913.1,1075.1 913.7,1077.4 914.3,1079.7 914.9,1082.0 915.5,1084.2 916.1,1086.5 916.7,1088.7 917.3,1091.0 917.9,1093.3 918.5,1095.6 919.1,1097.9 919.7,1100.2 920.3,1102.5 920.9,1104.8 921.5,1107.1 922.1,1109.4 922.7,1111.6 923.3,1113.9 923.9,1116.1 924.5,1118.4 925.1,1120.5 925.7,1122.7 926.3,1124.8 926.9,1126.9 927.5,1129.0 928.1,1131.1 928.7,1133.1 929.3,1135.2 929.9,1137.2 930.5,1139.2 931.1,1141.2 931.7,1143.2 932.3,1145.1 932.9,1147.1 933.5,1148.9 934.1,1150.8 934.7,1152.7 935.4,1154.5 936.0,1156.3 936.6,1158.2 937.3,1160.0 938.0,1161.9 938.6,1163.7 939.3,1165.5 940.0,1167.3 940.6,1169.1 941.3,1170.9 942.1,1172.6 942.8,1174.3 943.6,1176.0 944.4,1177.7 945.2,1179.3 946.1,1180.9 947.0,1182.4 947.9,1184.0 948.9,1185.5 949.8,1187.0 950.8,1188.5 951.9,1189.9 952.9,1191.3 954.0,1192.7 955.1,1194.0 956.3,1195.2 957.6,1196.4 958.8,1197.6 960.2,1198.8 961.5,1199.9 962.9,1201.0 964.2,1202.1 965.7,1203.2 967.1,1204.2 968.6,1205.1 970.2,1206.0 971.8,1206.9 973.4,1207.7 975.1,1208.5 976.9,1209.2 978.7,1209.9 980.5,1210.5 982.4,1211.2 984.3,1211.7 986.2,1212.3 988.1,1212.9 990.0,1213.4 992.0,1214.0 993.9,1214.6 995.8,1215.2 997.7,1215.8 999.6,1216.4 1001.5,1217.0 1003.4,1217.6 1005.3,1218.2 1007.2,1218.8 1009.1,1219.4 1011.0,1220.0 1012.9,1220.6 1014.8,1221.2 1016.7,1221.8 1018.6,1222.4 1020.5,1223.0 1022.4,1223.6 1024.3,1224.2 1026.3,1224.7 1028.2,1225.2 1030.2,1225.7 1032.2,1226.3 1034.2,1226.8 1036.1,1227.4 1038.0,1228.0 1039.8,1228.7 1041.7,1229.5 1043.4,1230.2 1045.1,1231.2 1046.6,1232.3 1048.0,1233.4 1049.3,1234.6 1050.7,1235.7 1052.1,1236.8 1053.5,1237.9 1054.9,1238.9 1056.5,1239.8 1058.0,1240.7 1059.6,1241.6 1061.2,1242.5 1062.8,1243.4 1064.5,1244.2 1066.1,1245.0 1067.8,1245.8 1069.5,1246.6 1071.2,1247.4 1073.0,1248.2 1074.7,1248.9 1076.5,1249.6 1078.3,1250.4 1080.0,1251.1 1081.7,1251.9 1083.5,1252.7 1085.2,1253.3 1087.1,1253.9 1089.1,1254.2 1091.4,1254.3 1093.9,1254.3 1096.4,1254.3 1098.9,1254.3 1101.4,1254.3 1103.9,1254.3 1106.4,1254.3 1108.9,1254.3 1111.4,1254.3 1113.9,1254.3 1116.4,1254.3 1118.9,1254.3 1121.4,1254.3 1123.9,1254.3 1126.4,1254.3 1128.9,1254.3 1131.4,1254.3 1133.9,1254.3 1136.4,1254.3 1138.9,1254.3 1141.4,1254.3 1143.9,1254.3 1146.4,1254.3 1148.9,1254.3 1151.4,1254.3 1153.9,1254.3 1156.4,1254.6 1158.3,1255.3 1160.0,1256.1 1161.8,1256.7 1163.8,1257.0 1166.0,1257.4 1168.1,1257.8 1170.3,1258.1 1172.4,1258.4 1174.6,1258.7 1176.8,1259.0 1179.1,1259.3 1181.3,1259.5 1183.6,1259.7 1185.9,1259.9 1188.2,1260.0 1190.6,1260.1 1193.0,1260.2 1195.5,1260.2 1198.0,1260.2 1200.5,1260.2 1203.0,1260.2 1205.5,1260.2 1208.0,1260.2 1210.5,1260.2 1213.0,1260.2 1215.4,1260.1 1217.9,1260.1 1220.4,1260.1 1222.9,1260.1 1225.4,1260.1 1227.9,1260.1 1230.4,1260.1 1232.9,1260.0 1235.3,1260.0 1237.8,1260.0 1240.3,1260.0 1242.8,1260.0 1245.3,1260.0 1247.8,1260.0 1250.2,1259.9 1252.7,1259.9 1255.2,1259.9 1257.7,1259.9 1260.2,1259.9 1262.7,1259.9 1265.2,1259.9 1267.6,1259.8 1270.1,1259.8 1272.6,1259.8 1275.1,1259.8 1277.6,1259.8 1280.1,1259.8 1282.6,1259.8 1285.1,1259.8 1287.6,1259.9 1289.9,1260.3 1291.9,1260.8 1293.9,1261.4 1295.8,1262.0 1297.6,1262.7 1299.5,1263.3 1301.3,1264.0 1303.2,1264.6 1305.1,1265.1 1307.1,1265.6 1309.1,1266.1 1311.1,1266.6 1313.0,1267.2 1315.0,1267.7 1317.0,1268.2 1319.0,1268.6 1321.1,1269.1 1323.2,1269.4 1325.3,1269.7 1327.6,1269.9 1329.9,1270.1 1332.2,1270.3 1334.5,1270.5 1336.8,1270.7 1339.1,1270.8 1341.5,1271.0 1343.8,1271.1 1346.2,1271.3 1348.6,1271.4 1351.0,1271.5 1353.4,1271.6 1355.8,1271.6 1358.2,1271.7 1360.7,1271.7 1363.2,1271.7 1365.7,1271.7 1368.2,1271.7 1370.7,1271.7 1373.1,1271.6 1375.6,1271.6 1378.0,1271.5 1380.5,1271.5 1382.9,1271.4 1385.4,1271.3 1387.8,1271.2 1390.2,1271.1 1392.6,1271.0 1395.0,1270.7 1397.0,1270.2 1398.9,1269.6 1400.8,1269.0 1402.8,1268.5 1404.9,1268.1 1406.9,1267.7 1409.1,1267.3 1411.2,1267.0 1413.3,1266.6 1415.5,1266.3 1417.6,1265.9 1419.8,1265.6 1422.0,1265.3 1424.1,1264.9 1426.3,1264.6 1428.4,1264.2 1430.6,1263.8 1432.7,1263.5 1434.8,1263.1 1437.0,1262.8 1439.1,1262.5 1441.4,1262.3 1443.7,1262.1 1446.1,1262.1 1448.6,1262.1 1451.1,1262.1 1453.6,1262.1 1456.1,1262.2 1458.5,1262.2 1461.0,1262.2 1463.5,1262.3 1465.9,1262.3 1468.4,1262.4 1470.8,1262.4 1473.2,1262.5 1475.7,1262.6 1478.1,1262.7 1480.4,1263.0 1482.6,1263.3 1484.7,1263.8 1486.7,1264.3 1488.7,1264.9 1490.6,1265.4 1492.5,1266.1 1494.4,1266.7 1496.3,1267.3 1498.1,1268.0 1500.0,1268.6 1501.9,1269.3 1503.7,1270.0 1505.4,1270.8 1507.1,1271.6 1508.8,1272.4 1510.5,1273.3 1512.1,1274.2 1513.7,1275.1 1515.3,1276.0 1516.9,1276.9 1518.5,1277.7 1520.1,1278.6 1521.8,1279.5 1523.4,1280.4 1525.0,1281.3 1526.6,1282.2 1528.2,1283.1 1529.8,1284.0 1531.4,1284.9 1533.0,1285.8 1534.6,1286.7 1536.2,1287.6 1537.8,1288.5 1539.4,1289.4 1541.0,1290.3 1542.6,1291.1 1544.3,1292.0 1545.9,1292.9 1547.5,1293.8 1549.1,1294.6 1550.8,1295.5 1552.4,1296.3 1554.1,1297.1 1555.8,1297.9 1557.5,1298.7 1559.2,1299.4 1561.0,1300.1 1562.9,1300.8 1564.7,1301.5 1566.5,1302.2 1568.3,1302.9 1570.1,1303.5 1571.9,1304.2 1573.8,1304.7 1575.7,1305.3 1577.7,1305.8 1579.7,1306.2 1581.9,1306.5 1584.1,1306.8 1586.4,1307.0 1588.7,1307.1 1591.0,1307.3 1593.3,1307.5 1595.7,1307.6 1598.1,1307.7 1600.4,1307.8 1602.9,1307.9 1605.3,1308.0 1607.7,1308.0 1610.2,1307.9 1612.5,1307.6 1614.7,1307.2 1616.7,1306.7 1618.7,1306.2 1620.7,1305.7 1622.8,1305.4 1624.9,1305.1 1627.3,1305.1 1629.8,1305.1 1632.3,1305.1 1634.8,1305.1 1637.3,1305.1 1639.8,1305.1 1642.3,1305.1 1644.8,1305.1 1647.3,1305.1 1649.8,1305.1 1652.3,1305.1 1654.8,1305.1 1657.3,1305.1 1659.8,1305.3 1661.9,1305.8 1663.9,1306.4 1665.7,1307.1 1667.5,1307.9 1669.3,1308.6 1671.1,1309.3 1672.8,1310.1 1674.5,1311.0 1676.1,1312.0 1677.6,1312.9 1679.2,1313.9 1680.7,1314.8 1682.3,1315.7 1683.9,1316.6 1685.6,1317.4 1687.2,1318.2 1688.9,1319.0 1690.6,1319.8 1692.4,1320.6 1694.0,1321.4 1695.7,1322.3 1697.3,1323.2 1698.9,1324.2 1700.4,1325.2 1701.9,1326.3 1703.3,1327.4 1704.7,1328.5 1706.1,1329.6 1707.5,1330.7 1708.9,1331.8 1710.3,1332.8 1711.8,1333.8 1713.3,1334.8 1714.8,1335.7 1716.4,1336.6 1718.0,1337.6 1719.5,1338.5 1721.2,1339.3 1722.8,1340.2 1724.5,1340.9 1726.3,1341.6 1728.1,1342.1 1730.1,1342.7 1732.0,1343.2 1734.0,1343.7 1736.0,1344.2 1738.1,1344.5 1740.3,1344.7 1742.7,1344.8 1745.2,1344.8 1747.7,1344.8 1750.2,1344.8 1752.7,1344.7 1754.5,1343.4 1755.8,1342.2 1757.2,1341.3 1759.0,1341.0 1761.1,1340.7 1763.4,1340.5 1765.6,1340.2 1767.9,1340.1 1770.3,1339.9 1772.7,1339.9 1775.1,1339.8 1777.6,1339.8 1780.0,1339.9 1782.4,1340.0 1784.8,1340.2 1787.0,1340.5 1789.3,1340.8 1791.5,1341.1 1793.6,1341.7 1795.3,1342.7 1796.8,1343.8 1798.2,1345.0 1799.4,1346.3 1800.7,1347.6 1801.9,1348.9 1803.1,1350.1 1804.4,1351.4 1805.6,1352.7 1806.7,1354.1 1807.8,1355.6 1808.9,1357.0 1810.0,1358.4 1811.1,1359.9 1812.1,1361.3 1813.2,1362.7 1814.3,1364.0 1815.5,1365.3 1816.7,1366.6 1817.9,1367.9 1819.1,1369.1 1820.4,1370.3 1821.7,1371.6 1822.9,1372.8 1824.2,1374.0 1825.4,1375.3 1826.7,1376.6 1827.9,1377.9 1829.1,1379.2 1830.3,1380.6 1831.4,1381.9 1832.6,1383.2 1833.7,1384.6 1834.9,1385.9 1836.1,1387.2 1837.3,1388.5 1838.5,1389.8 1839.7,1391.1 1840.9,1392.4 1842.1,1393.6 1843.3,1394.9 1844.6,1396.2 1845.8,1397.4 1847.1,1398.7 1848.3,1399.9 1849.6,1401.1 1850.9,1402.3 1852.2,1403.5 1853.5,1404.6 1854.8,1405.8 1856.2,1406.9 1857.6,1408.0 1859.0,1409.1 1860.4,1410.2 1861.8,1411.3 1863.2,1412.3 1864.6,1413.4 1866.0,1414.6 1867.4,1415.7 1868.8,1416.9 1870.1,1418.1 1871.4,1419.3 1872.7,1420.5 1874.0,1421.7 1875.3,1422.9 1876.6,1424.1 1877.9,1425.2 1879.3,1426.2 1880.8,1427.1 1882.4,1428.0 1884.1,1428.8 1885.8,1429.5 1887.5,1430.3 1889.3,1431.0 1891.1,1431.7 1892.9,1432.3 1894.8,1432.9 1896.7,1433.5 1898.6,1434.1 1900.5,1434.6 1902.5,1435.2 1904.5,1435.7 1906.4,1436.2 1908.5,1436.7 1910.5,1437.1 1912.5,1437.6 1914.6,1438.0 1916.7,1438.4 1918.7,1438.8 1920.9,1439.2 1923.0,1439.6 1925.1,1439.9 1927.3,1440.2 1929.5,1440.5 1931.7,1440.7 1934.0,1441.0 1936.2,1441.2 1938.5,1441.5 1940.7,1441.8 1942.9,1442.1 1945.1,1442.4 1947.2,1442.8 1949.3,1443.3 1951.3,1444.0 1953.1,1444.7 1954.8,1445.6 1956.4,1446.5 1958.0,1447.4 1959.6,1448.4 1961.1,1449.3 1962.7,1450.2 1964.4,1451.0 1966.0,1451.9 1967.7,1452.7 1969.3,1453.6 1970.9,1454.5 1972.5,1455.4 1974.1,1456.3 1975.8,1457.1 1977.4,1458.0 1979.0,1458.8 1980.7,1459.6 1982.4,1460.4 1984.2,1461.1 1985.9,1461.8 1987.7,1462.5 1989.5,1463.2 1991.3,1463.9 1993.2,1464.6 1995.1,1465.1 1997.1,1465.4 1999.4,1465.5 2001.9,1465.5 2004.3,1465.5 2006.8,1465.5 2009.3,1465.6 2011.8,1465.6 2014.2,1466.0 2015.8,1467.2 2017.1,1468.2 2018.9,1468.3 2021.4,1468.3 2023.9,1468.3 2026.4,1468.3 2028.9,1468.3 2031.4,1468.3 2033.9,1468.3 2036.4,1468.3 2038.9,1468.3 2041.4,1468.3 2043.9,1468.3 2046.4,1468.3 2048.9,1468.3 2051.4,1468.3 2053.9,1468.4 2056.1,1468.8 2058.1,1469.3 2060.2,1469.6 2062.4,1469.8 2064.8,1470.0 2067.1,1470.1 2069.5,1470.2 2072.0,1470.2 2074.4,1470.3 2076.8,1470.4 2079.3,1470.5 2081.6,1470.6 2084.0,1470.8 2086.3,1471.0 2088.6,1471.5 2090.0,1473.0 2091.1,1474.3 2092.5,1474.8 2095.0,1474.8 2097.5,1474.8 2100.0,1474.8 2102.5,1474.8 2105.0,1474.8 2107.5,1474.8 2110.0,1474.8 2112.5,1474.8 2114.9,1475.3 2116.8,1476.0 2118.6,1476.7 2120.3,1477.3 2122.3,1477.6 2124.8,1477.6 2127.3,1477.6 2129.8,1477.6 2132.3,1477.6 2134.8,1477.6 2135.9,1477.6"/>
<polyline stroke="#00f" points="261.0,579.0 262.2,577.6 263.3,576.3 264.4,574.9 265.5,573.4 266.5,571.9 267.6,570.4 268.6,568.9 269.6,567.4 270.6,565.9 271.6,564.5 272.7,563.2 273.9,561.9 275.1,560.7 276.4,559.6 277.7,558.4 279.1,557.3 280.5,556.3 282.0,555.4 283.7,554.6 285.4,554.0 287.3,553.4 289.2,552.9 291.3,552.4 293.3,551.9 295.3,551.4 297.2,550.7 298.9,549.8 300.5,548.8 302.0,547.7 303.4,546.5 304.7,545.4 306.1,544.2 307.4,543.1 308.8,542.1 310.3,541.2 311.9,540.2 313.4,539.2 314.9,538.2 316.4,537.2 317.9,536.2 319.4,535.2 320.9,534.3 322.5,533.4 324.1,532.6 325.8,531.8 327.6,531.2 329.5,530.7 331.6,530.5 334.1,530.7 336.1,531.4 337.9,532.1 339.7,532.8 341.5,533.4 343.5,533.8 345.8,533.6 347.9,533.1 349.8,532.3 351.4,531.4 353.0,530.4 354.5,529.3 355.9,528.2 357.3,527.0 358.6,525.8 359.9,524.6 361.2,523.4 362.6,522.3 363.9,521.1 365.2,519.9 366.5,518.7 367.8,517.6 369.2,516.5 370.6,515.5 372.1,514.5 373.6,513.6 375.3,512.9 377.1,512.3 379.1,511.9 381.4,511.9 383.8,512.1 386.1,512.2 388.5,512.4 390.8,512.6 393.2,512.6 395.5,511.8 397.1,510.7 398.5,509.5 399.8,508.3 401.1,507.0 402.3,505.8 403.6,504.7 405.0,503.6 406.5,502.8 408.2,502.4 410.7,502.5 413.0,502.7 415.3,503.0 417.5,503.3 419.7,503.6 421.9,503.9 424.1,504.1 426.4,504.3 428.8,504.2 431.0,503.7 432.9,503.0 434.6,502.1 436.2,501.1 437.7,500.0 439.2,499.0 440.6,497.8 442.0,496.7 443.3,495.5 444.7,494.4 446.0,493.2 447.4,492.1 448.7,491.0 450.1,489.9 451.5,488.8 452.9,487.8 454.5,486.9 456.0,486.0 457.7,485.3 459.5,484.8 461.6,484.5 464.0,485.0 465.8,485.8 467.4,486.7 469.0,487.5 470.8,488.1 473.0,488.0 475.2,487.5 477.2,486.9 479.0,486.2 480.7,485.4 482.4,484.6 484.1,483.8 485.8,483.0 487.6,482.3 489.4,481.7 491.3,481.1 493.2,480.5 495.1,479.9 497.1,479.4 499.0,478.8 501.0,478.3 502.9,477.7 504.9,477.2 506.8,476.6 508.7,475.9 510.6,475.3 512.4,474.6 514.2,473.9 515.9,473.1 517.6,472.2 519.3,471.3 520.8,470.3 522.3,469.2 523.7,468.0 525.0,466.8 526.3,465.6 527.6,464.3 528.8,463.0 530.0,461.7 531.2,460.5 532.5,459.2 533.7,457.9 534.9,456.6 536.1,455.3 537.3,453.9 538.4,452.6 539.6,451.2 540.7,449.8 541.8,448.4 542.9,447.0 544.0,445.5 545.0,444.1 546.1,442.6 547.1,441.2 548.2,439.7 549.2,438.2 550.2,436.7 551.2,435.1 552.2,433.6 553.1,432.0 554.1,430.5 555.0,428.9 555.9,427.3 556.8,425.7 557.8,424.1 558.7,422.5 559.6,420.9 560.5,419.3 561.4,417.7 562.2,416.1 563.1,414.4 564.0,412.8 564.8,411.1 565.7,409.4 566.5,407.7 567.3,406.0 568.1,404.3 568.9,402.6 569.7,401.0 570.6,399.3 571.4,397.6 572.2,395.9 573.0,394.2 573.8,392.6 574.7,391.0 575.5,389.3 576.4,387.7 577.3,386.1 578.2,384.6 579.1,383.0 580.0,381.4 581.0,379.9 581.9,378.3 582.9,376.8 583.8,375.3 584.8,373.7 585.8,372.2 586.7,370.6 587.7,369.1 588.6,367.5 589.6,365.9 590.5,364.3 591.4,362.7 592.3,361.1 593.2,359.5 594.1,357.9 594.9,356.3 595.8,354.6 596.7,353.0 597.6,351.4 598.4,349.7 599.3,348.1 600.2,346.5 601.0,344.9 601.9,343.2 602.8,341.6 603.7,340.0 604.6,338.5 605.5,336.8 606.4,335.2 607.3,333.6 608.2,332.0 609.1,330.4 610.0,328.9 610.9,327.4 612.0,326.1 613.1,324.6 614.2,323.2 615.3,322.0 616.6,321.4 619.1,321.8 621.0,322.5 622.7,324.3 623.7,326.0 624.6,328.0 625.2,330.0 625.8,332.1 626.4,334.5 627.0,337.1 627.6,339.8 628.2,342.6 628.8,345.5 629.4,348.4 630.0,351.2 630.6,354.1 631.2,357.1 631.8,360.2 632.4,363.5 633.0,366.9 633.6,370.4 634.2,374.0 634.8,377.8 635.4,381.6 636.0,385.6 636.6,389.8 637.2,394.2 637.8,398.7 638.4,403.5 639.0,408.4 639.6,413.6 640.2,419.1 640.8,424.8 641.4,431.3 642.0,438.2 642.6,445.5 643.2,453.0 643.8,460.5 644.4,467.7 645.0,474.6 645.6,480.9 646.2,487.1 646.8,493.0 647.4,498.7 648.0,504.4 648.6,510.1 649.2,515.8 649.8,521.7 650.4,527.8 651.0,534.1 651.6,540.7 652.2,547.6 652.8,554.6 653.4,561.9 654.0,569.3 654.6,576.7 655.2,584.2 655.8,591.7 656.4,599.2 657.0,606.5 657.6,613.8 658.2,621.2 658.8,628.7 659.4,636.1 660.0,643.5 660.6,650.7 661.2,657.7 661.8,664.4 662.4,670.9 663.0,677.3 663.6,683.5 664.2,689.5 664.8,695.5 665.4,701.2 666.0,706.8 666.6,712.2 667.2,717.4 667.8,722.5 668.4,727.6 669.0,732.5 669.6,737.4 670.2,742.1 670.8,746.7 671.4,751.3 672.0,755.7 672.6,760.0 673.2,764.2 673.8,768.3 674.4,772.4 675.0,776.4 675.6,780.4 676.2,784.4 676.8,788.3 677.4,792.0 678.0,795.7 678.6,799.1 679.2,802.5 679.8,805.6 680.4,808.5 681.0,811.2 681.6,813.7 682.2,816.1 682.8,818.4 683.4,820.6 684.0,822.7 684.6,824.8 685.2,826.7 685.8,828.7 686.5,830.5 687.1,832.4 687.7,834.2 688.3,836.1 689.0,838.0 689.6,839.8 690.3,841.7 690.9,843.6 691.5,845.4 692.2,847.3 692.8,849.2 693.4,851.0 694.0,852.9 694.7,854.7 695.3,856.6 696.0,858.4 696.7,860.1 697.4,861.9 698.1,863.6 698.9,865.3 699.7,866.9 700.6,868.4 701.5,869.9 702.5,871.4 703.5,872.9 704.5,874.3 705.5,875.8 706.6,877.1 707.7,878.5 708.9,879.8 710.1,881.1 711.3,882.3 712.5,883.6 713.8,884.7 715.1,885.9 716.4,887.1 717.8,888.2 719.1,889.4 720.5,890.5 721.9,891.6 723.3,892.6 724.7,893.6 726.2,894.6 727.8,895.4 729.5,896.2 731.3,896.8 733.2,897.3 735.2,897.7 737.3,898.1 739.5,898.4 741.7,898.8 743.8,899.2 745.9,899.7 747.8,900.4 749.5,901.1 751.3,901.9 753.1,902.4 755.2,902.6 757.6,902.5 760.0,902.4 762.3,902.1 764.6,901.9 766.7,901.0 768.2,899.8 769.5,898.4 770.7,897.1 771.8,895.6 772.9,894.2 773.9,892.7 775.0,891.2 776.0,889.6 776.9,887.9 777.8,886.2 778.5,884.4 779.3,882.6 780.0,880.8 780.7,879.0 781.4,877.1 782.1,875.3 782.8,873.5 783.5,871.7 784.1,869.8 784.8,868.0 785.5,866.1 786.1,864.2 786.8,862.4 787.4,860.5 788.0,858.6 788.6,856.6 789.2,854.7 789.8,852.7 790.4,850.6 791.0,848.5 791.6,846.4 792.2,844.2 792.8,841.9 793.4,839.6 794.0,837.2 794.6,834.8 795.2,832.2 795.8,829.6 796.4,826.9 797.0,824.1 797.6,821.2 798.2,818.1 798.8,815.0 799.4,811.6 800.0,808.0 800.6,804.1 801.2,800.0 801.8,795.8 802.4,791.4 803.0,787.0 803.6,782.4 804.2,777.9 804.8,773.4 805.4,769.0 806.0,764.7 806.6,760.5 807.2,756.4 807.8,752.6 808.4,748.8 809.0,745.2 809.6,741.6 810.2,738.0 810.8,734.5 811.4,731.0 812.0,727.5 812.6,724.0 813.2,720.4 813.8,716.7 814.4,713.0 815.0,709.2 815.6,705.2 816.2,701.1 816.8,696.9 817.4,692.4 818.0,687.6 818.6,682.7 819.2,677.6 819.8,672.4 820.4,667.1 821.0,661.8 821.6,656.5 822.2,651.3 822.8,646.2 823.4,641.3 824.0,636.6 824.6,632.0 825.2,627.5 825.8,623.1 826.4,618.8 827.0,614.5 827.6,610.2 828.2,606.0 828.8,601.7 829.4,597.4 830.0,593.1 830.6,588.7 831.2,584.2 831.8,579.6 832.4,574.9 833.0,570.1 833.6,565.2 834.2,560.4 834.8,555.5 835.4,550.8 836.0,546.1 836.6,541.5 837.2,537.2 837.8,533.0 838.4,529.0 839.0,525.2 839.6,521.3 840.2,517.6 840.8,513.9 841.4,510.3 842.0,506.9 842.6,503.5 843.2,500.3 843.8,497.2 844.4,494.2 845.0,491.4 845.6,488.7 846.2,486.1 846.8,483.6 847.4,481.1 848.0,478.7 848.6,476.4 849.2,474.1 849.8,472.0 850.4,470.0 851.0,468.1 851.6,466.3 852.3,464.6 853.0,462.8 853.7,461.1 854.5,459.4 855.3,457.7 856.1,456.1 856.9,454.6 857.9,453.1 858.9,451.8 860.1,450.7 861.4,449.5 862.8,448.5 864.3,447.8 866.2,447.7 868.2,448.9 869.4,450.3 870.6,451.9 871.6,453.4 872.5,455.0 873.5,456.6 874.4,458.2 875.2,460.1 876.0,461.9 876.7,463.9 877.3,465.8 877.9,467.8 878.5,469.8 879.1,471.9 879.7,474.1 880.3,476.4 880.9,478.6 881.5,480.9 882.1,483.2 882.7,485.6 883.3,488.0 883.9,490.5 884.5,493.2 885.1,495.9 885.7,498.7 886.3,501.5 886.9,504.5 887.5,507.5 888.1,510.6 888.7,513.8 889.3,517.0 889.9,520.3 890.5,523.7 891.1,527.2 891.7,530.9 892.3,534.7 892.9,538.7 893.5,542.8 894.1,546.9 894.7,551.2 895.3,555.4 895.9,559.6 896.5,563.8 897.1,567.9 897.7,571.9 898.3,575.9 898.9,579.8 899.5,583.7 900.1,587.5 900.7,591.4 901.3,595.2 901.9,599.1 902.5,603.0 903.1,606.8 903.7,610.7 904.3,614.7 904.9,618.6 905.5,622.7 906.1,626.8 906.7,630.9 907.3,635.2 907.9,639.5 908.5,643.9 909.1,648.3 909.7,652.8 910.3,657.2 910.9,661.6 911.5,666.0 912.1,670.4 912.7,674.6 913.3,678.8 913.9,682.9 914.5,686.9 915.1,690.8 915.7,694.6 916.3,698.4 916.9,702.1 917.5,705.8 918.1,709.4 918.7,713.0 919.3,716.6 919.9,720.2 920.5,723.7 921.1,727.2 921.7,730.7 922.3,734.1 922.9,737.6 923.5,741.1 924.1,744.5 924.7,748.0 925.3,751.6 925.9,755.1 926.5,758.7 927.1,762.3 927.7,765.9 928.3,769.5 928.9,773.0 929.5,776.6 930.1,780.1 930.7,783.5 931.3,787.0 931.9,790.3 932.5,793.6 933.1,796.8 933.7,800.0 934.3,803.0 934.9,806.0 935.5,808.8 936.1,811.5 936.7,814.1 937.3,816.5 937.9,818.9 938.5,821.2 939.1,823.3 939.7,825.5 940.3,827.5 940.9,829.5 941.5,831.4 942.1,833.3 942.7,835.2 943.3,837.1 943.9,839.0 944.5,840.9 945.1,842.8 945.7,844.7 946.3,846.6 946.9,848.5 947.5,850.5 948.1,852.5 948.7,854.6 949.3,856.7 949.9,858.8 950.5,860.9 951.1,863.0 951.7,865.1 952.3,867.2 952.9,869.4 953.5,871.5 954.1,873.6 954.7,875.7 955.3,877.7 955.9,879.8 956.5,881.8 957.1,883.8 957.7,885.7 958.3,887.6 958.9,889.5 959.6,891.4 960.2,893.2 960.8,895.1 961.4,897.0 962.1,898.8 962.7,900.7 963.4,902.5 964.0,904.3 964.7,906.2 965.3,908.0 966.0,909.8 966.7,911.6 967.4,913.4 968.1,915.2 968.8,917.0 969.5,918.8 970.2,920.6 970.9,922.4 971.6,924.1 972.3,925.9 973.1,927.6 973.8,929.4 974.6,931.1 975.4,932.8 976.1,934.5 976.9,936.2 977.7,937.9 978.6,939.5 979.4,941.2 980.2,942.9 981.0,944.5 981.9,946.2 982.7,947.8 983.6,949.4 984.5,951.1 985.3,952.7 986.2,954.3 987.1,956.0 987.9,957.6 988.8,959.2 989.7,960.9 990.5,962.5 991.4,964.1 992.3,965.8 993.1,967.4 994.0,969.0 994.9,970.7 995.7,972.3 996.6,973.9 997.5,975.5 998.4,977.1 999.3,978.7 1000.2,980.3 1001.1,981.9 1002.0,983.4 1003.0,984.9 1003.9,986.5 1004.9,988.0 1005.9,989.5 1006.9,990.9 1007.9,992.3 1009.0,993.8 1010.1,995.2 1011.2,996.5 1012.3,997.9 1013.4,999.2 1014.6,1000.6 1015.8,1001.9 1016.9,1003.2 1018.1,1004.5 1019.3,1005.8 1020.6,1007.0 1021.8,1008.3 1023.0,1009.5 1024.3,1010.8 1025.6,1012.0 1026.9,1013.1 1028.2,1014.3 1029.5,1015.4 1030.9,1016.6 1032.2,1017.7 1033.6,1018.8 1035.0,1020.0 1036.4,1021.1 1037.7,1022.2 1039.1,1023.4 1040.5,1024.5 1041.8,1025.7 1043.1,1026.9 1044.4,1028.1 1045.7,1029.4 1046.9,1030.6 1048.2,1031.9 1049.4,1033.3 1050.5,1034.6 1051.7,1036.1 1052.8,1037.5 1053.8,1039.0 1054.8,1040.5 1055.8,1042.1 1056.8,1043.6 1057.7,1045.2 1058.7,1046.7 1059.6,1048.3 1060.6,1049.9 1061.5,1051.4 1062.5,1053.0 1063.4,1054.5 1064.4,1056.0 1065.3,1057.5 1066.3,1059.0 1067.4,1060.4 1068.4,1061.8 1069.5,1063.2 1070.6,1064.6 1071.7,1065.9 1072.9,1067.3 1074.0,1068.6 1075.2,1069.9 1076.4,1071.2 1077.6,1072.5 1078.8,1073.8 1080.1,1075.0 1081.3,1076.3 1082.5,1077.5 1083.8,1078.7 1085.1,1079.9 1086.4,1081.1 1087.7,1082.3 1089.0,1083.5 1090.4,1084.6 1091.7,1085.7 1093.1,1086.9 1094.5,1088.0 1095.9,1089.1 1097.3,1090.2 1098.7,1091.2 1100.1,1092.3 1101.5,1093.4 1102.9,1094.5 1104.3,1095.6 1105.8,1096.6 1107.2,1097.7 1108.6,1098.8 1110.0,1099.9 1111.4,1101.1 1112.8,1102.2 1114.1,1103.3 1115.5,1104.5 1116.8,1105.6 1118.2,1106.8 1119.5,1107.9 1120.9,1109.1 1122.2,1110.2 1123.6,1111.4 1124.9,1112.5 1126.3,1113.7 1127.6,1114.8 1129.0,1116.0 1130.3,1117.1 1131.7,1118.2 1133.1,1119.4 1134.4,1120.5 1135.8,1121.6 1137.2,1122.7 1138.6,1123.8 1140.0,1124.9 1141.4,1126.0 1142.8,1127.1 1144.3,1128.2 1145.7,1129.2 1147.1,1130.3 1148.5,1131.4 1149.9,1132.5 1151.4,1133.5 1152.8,1134.6 1154.2,1135.7 1155.7,1136.7 1157.1,1137.8 1158.5,1138.9 1160.0,1139.9 1161.4,1141.0 1162.8,1142.1 1164.3,1143.1 1165.7,1144.2 1167.2,1145.2 1168.6,1146.3 1170.1,1147.3 1171.5,1148.3 1173.0,1149.4 1174.4,1150.5 1175.9,1151.5 1177.3,1152.6 1178.7,1153.7 1180.1,1154.8 1181.5,1155.9 1182.9,1157.1 1184.2,1158.3 1185.6,1159.5 1186.9,1160.7 1188.1,1161.9 1189.4,1163.2 1190.6,1164.4 1191.9,1165.7 1193.2,1166.9 1194.4,1168.1 1195.7,1169.3 1197.0,1170.4 1198.4,1171.6 1199.8,1172.7 1201.1,1173.8 1202.5,1175.0 1203.9,1176.1 1205.3,1177.2 1206.6,1178.3 1208.0,1179.4 1209.4,1180.5 1210.8,1181.6 1212.3,1182.7 1213.7,1183.7 1215.1,1184.8 1216.5,1185.9 1218.0,1186.9 1219.4,1188.0 1220.8,1189.1 1222.3,1190.1 1223.7,1191.2 1225.2,1192.2 1226.6,1193.2 1228.1,1194.3 1229.6,1195.3 1231.1,1196.3 1232.5,1197.3 1234.0,1198.3 1235.5,1199.4 1237.0,1200.4 1238.5,1201.4 1240.0,1202.4 1241.5,1203.4 1243.0,1204.4 1244.5,1205.3 1246.0,1206.3 1247.5,1207.3 1249.1,1208.3 1250.6,1209.2 1252.1,1210.2 1253.7,1211.1 1255.2,1212.1 1256.8,1213.0 1258.3,1214.0 1259.9,1214.9 1261.5,1215.8 1263.0,1216.7 1264.6,1217.7 1266.2,1218.6 1267.8,1219.5 1269.4,1220.4 1270.9,1221.3 1272.5,1222.2 1274.1,1223.1 1275.7,1224.1 1277.3,1225.0 1278.9,1225.9 1280.5,1226.8 1282.1,1227.6 1283.7,1228.5 1285.4,1229.3 1287.0,1230.2 1288.7,1231.0 1290.4,1231.9 1292.0,1232.7 1293.7,1233.6 1295.3,1234.4 1297.0,1235.3 1298.6,1236.2 1300.2,1237.1 1301.7,1238.1 1303.3,1239.0 1304.8,1240.0 1306.3,1241.1 1307.8,1242.1 1309.2,1243.3 1310.6,1244.4 1311.9,1245.6 1313.3,1246.7 1314.6,1247.9 1315.9,1249.1 1317.2,1250.3 1318.5,1251.5 1319.8,1252.7 1321.2,1253.8 1322.5,1255.0 1323.9,1256.1 1325.2,1257.2 1326.7,1258.2 1328.1,1259.3 1329.6,1260.3 1331.1,1261.2 1332.6,1262.2 1334.2,1263.1 1335.7,1264.1 1337.3,1265.0 1338.8,1266.0 1340.4,1267.0 1341.9,1267.9 1343.4,1269.0 1344.9,1270.0 1346.3,1271.1 1347.7,1272.2 1349.1,1273.4 1350.5,1274.6 1351.8,1275.8 1353.0,1277.0 1354.3,1278.3 1355.5,1279.6 1356.7,1280.9 1357.9,1282.2 1359.1,1283.6 1360.3,1284.9 1361.4,1286.3 1362.5,1287.8 1363.5,1289.3 1364.6,1290.7 1365.6,1292.2 1366.6,1293.7 1367.6,1295.2 1368.6,1296.7 1369.6,1298.2 1370.7,1299.7 1371.7,1301.1 1372.7,1302.6 1373.8,1304.1 1374.8,1305.6 1375.8,1307.1 1376.8,1308.6 1377.8,1310.0 1378.8,1311.5 1379.8,1313.0 1380.9,1314.4 1382.0,1315.8 1383.1,1317.1 1384.2,1318.5 1385.4,1319.8 1386.5,1321.2 1387.6,1322.5 1388.8,1323.9 1390.0,1325.1 1391.2,1326.3 1392.5,1327.5 1393.9,1328.5 1395.4,1329.4 1397.0,1330.2 1398.7,1331.0 1400.4,1331.7 1402.2,1332.3 1404.2,1332.8 1406.4,1332.9 1408.8,1332.6 1410.8,1332.0 1412.7,1331.3 1414.4,1330.5 1416.1,1329.6 1417.8,1328.7 1419.2,1327.5 1420.5,1326.2 1421.7,1324.8 1422.9,1323.3 1423.9,1321.9 1425.0,1320.4 1426.0,1318.9 1427.0,1317.4 1428.0,1315.9 1429.0,1314.4 1430.0,1312.8 1430.9,1311.1 1431.8,1309.5 1432.6,1307.8 1433.5,1306.1 1434.3,1304.4 1435.1,1302.7 1435.9,1301.0 1436.7,1299.3 1437.5,1297.6 1438.3,1295.9 1439.1,1294.2 1439.9,1292.5 1440.7,1290.8 1441.5,1289.2 1442.3,1287.5 1443.2,1285.8 1444.0,1284.2 1444.8,1282.5 1445.7,1280.8 1446.5,1279.2 1447.3,1277.5 1448.2,1275.8 1449.0,1274.2 1449.8,1272.5 1450.7,1270.8 1451.5,1269.2 1452.3,1267.5 1453.2,1265.8 1454.0,1264.2 1454.8,1262.5 1455.7,1260.8 1456.5,1259.1 1457.3,1257.5 1458.1,1255.8 1459.0,1254.1 1459.8,1252.4 1460.6,1250.8 1461.5,1249.1 1462.3,1247.5 1463.1,1245.8 1464.0,1244.2 1464.9,1242.6 1465.7,1240.9 1466.6,1239.2 1467.4,1237.6 1468.3,1236.0 1469.1,1234.3 1470.0,1232.7 1470.8,1231.1 1471.7,1229.5 1472.6,1227.9 1473.5,1226.3 1474.4,1224.8 1475.4,1223.3 1476.4,1221.8 1477.4,1220.3 1478.4,1218.9 1479.5,1217.4 1480.5,1216.0 1481.6,1214.6 1482.7,1213.2 1483.8,1211.9 1485.0,1210.6 1486.2,1209.4 1487.5,1208.3 1488.9,1207.3 1490.4,1206.3 1491.9,1205.4 1493.5,1204.4 1495.1,1203.6 1496.7,1202.8 1498.5,1202.3 1500.5,1201.9 1502.9,1202.1 1504.9,1202.7 1506.7,1203.6 1508.3,1204.6 1509.8,1205.7 1511.2,1206.8 1512.6,1207.9 1513.9,1209.1 1515.3,1210.2 1516.6,1211.4 1518.0,1212.5 1519.3,1213.8 1520.6,1215.1 1521.8,1216.5 1522.9,1217.8 1524.0,1219.2 1525.2,1220.7 1526.2,1222.1 1527.3,1223.5 1528.4,1225.0 1529.4,1226.4 1530.5,1227.9 1531.5,1229.3 1532.6,1230.7 1533.7,1232.2 1534.7,1233.6 1535.8,1235.1 1536.8,1236.6 1537.8,1238.0 1538.9,1239.5 1539.9,1241.0 1540.9,1242.5 1541.9,1244.0 1542.9,1245.5 1543.9,1247.0 1544.9,1248.5 1545.9,1250.1 1546.9,1251.6 1547.8,1253.1 1548.8,1254.6 1549.8,1256.1 1550.8,1257.7 1551.8,1259.2 1552.7,1260.7 1553.7,1262.3 1554.7,1263.8 1555.6,1265.4 1556.6,1266.9 1557.5,1268.5 1558.4,1270.1 1559.4,1271.7 1560.3,1273.2 1561.2,1274.8 1562.1,1276.4 1563.1,1277.9 1564.0,1279.5 1564.9,1281.1 1565.9,1282.6 1566.8,1284.2 1567.8,1285.7 1568.7,1287.2 1569.7,1288.7 1570.7,1290.2 1571.7,1291.7 1572.7,1293.1 1573.8,1294.6 1574.8,1296.0 1575.9,1297.5 1576.9,1298.9 1578.0,1300.3 1579.1,1301.7 1580.2,1303.1 1581.3,1304.5 1582.4,1305.9 1583.5,1307.3 1584.6,1308.6 1585.7,1310.0 1586.9,1311.3 1588.0,1312.7 1589.2,1314.0 1590.4,1315.3 1591.6,1316.6 1592.7,1318.0 1593.9,1319.3 1595.1,1320.6 1596.3,1321.9 1597.5,1323.1 1598.7,1324.4 1600.0,1325.6 1601.3,1326.8 1602.6,1328.0 1603.9,1329.1 1605.3,1330.1 1606.8,1331.2 1608.2,1332.2 1609.6,1333.3 1611.1,1334.4 1612.5,1335.4 1614.0,1336.4 1615.5,1337.3 1617.2,1338.1 1618.9,1338.7 1620.8,1339.1 1623.1,1339.0 1625.3,1338.3 1627.1,1337.5 1628.7,1336.6 1630.3,1335.6 1631.8,1334.7 1633.3,1333.5 1634.6,1332.1 1635.8,1330.8 1636.9,1329.3 1638.0,1327.9 1639.1,1326.4 1640.1,1324.9 1641.1,1323.4 1642.1,1321.8 1643.0,1320.2 1643.9,1318.5 1644.8,1316.9 1645.6,1315.2 1646.5,1313.5 1647.3,1311.9 1648.2,1310.2 1649.0,1308.6 1649.9,1306.9 1650.7,1305.2 1651.5,1303.4 1652.2,1301.7 1653.0,1300.0 1653.8,1298.4 1654.7,1296.8 1655.6,1295.3 1656.6,1293.9 1657.6,1292.5 1658.7,1291.1 1659.8,1289.8 1661.0,1288.5 1662.2,1287.2 1663.4,1286.0 1664.7,1284.9 1666.1,1283.9 1667.6,1283.1 1669.3,1282.3 1671.0,1281.5 1672.8,1280.8 1674.7,1280.4 1676.9,1280.3 1679.2,1280.8 1681.1,1281.5 1682.9,1282.3 1684.6,1283.1 1686.2,1284.0 1687.8,1285.0 1689.3,1286.2 1690.6,1287.5 1691.8,1288.8 1693.0,1290.2 1694.1,1291.6 1695.2,1293.0 1696.3,1294.4 1697.4,1295.9 1698.4,1297.3 1699.5,1298.7 1700.6,1300.2 1701.6,1301.6 1702.7,1303.0 1703.8,1304.5 1704.8,1306.0 1705.8,1307.5 1706.8,1309.0 1707.8,1310.5 1708.8,1312.1 1709.8,1313.6 1710.7,1315.1 1711.7,1316.6 1712.7,1318.1 1713.7,1319.6 1714.7,1321.1 1715.7,1322.6 1716.7,1324.0 1717.8,1325.5 1718.8,1326.9 1719.9,1328.4 1720.9,1329.8 1722.0,1331.2 1723.1,1332.7 1724.2,1334.1 1725.2,1335.5 1726.3,1336.9 1727.4,1338.3 1728.5,1339.6 1729.7,1341.0 1730.8,1342.4 1731.9,1343.7 1733.1,1345.1 1734.2,1346.4 1735.4,1347.7 1736.6,1349.0 1737.8,1350.3 1738.9,1351.6 1740.1,1352.9 1741.4,1354.2 1742.6,1355.5 1743.8,1356.7 1745.1,1358.0 1746.3,1359.2 1747.6,1360.5 1748.8,1361.7 1750.1,1363.0 1751.3,1364.2 1752.6,1365.4 1753.9,1366.5 1755.3,1367.6 1756.7,1368.6 1758.2,1369.5 1759.8,1370.5 1761.3,1371.4 1763.0,1372.1 1764.8,1372.5 1767.3,1372.5 1769.8,1372.5 1772.3,1372.5 1774.8,1372.5 1777.3,1372.5 1779.8,1372.5 1782.3,1372.5 1784.8,1372.5 1787.3,1372.5 1789.8,1372.5 1792.3,1372.5 1794.8,1372.5 1797.3,1372.5 1799.8,1372.5 1802.3,1372.5 1804.8,1372.5 1807.3,1372.5 1809.8,1372.7 1811.8,1373.5 1813.5,1374.4 1815.0,1375.4 1816.5,1376.5 1817.9,1377.6 1819.3,1378.7 1820.7,1379.8 1822.1,1380.9 1823.5,1382.0 1825.0,1383.0 1826.4,1384.0 1827.8,1385.1 1829.3,1386.2 1830.6,1387.4 1832.0,1388.5 1833.4,1389.6 1834.7,1390.8 1836.1,1391.9 1837.5,1393.1 1838.8,1394.2 1840.2,1395.3 1841.6,1396.5 1842.9,1397.6 1844.3,1398.6 1845.8,1399.7 1847.2,1400.8 1848.6,1401.8 1850.1,1402.9 1851.5,1403.9 1853.0,1405.0 1854.4,1406.0 1855.9,1407.0 1857.4,1408.0 1858.9,1409.0 1860.4,1410.0 1861.9,1411.0 1863.4,1412.0 1864.9,1413.0 1866.5,1413.9 1868.0,1414.9 1869.5,1415.8 1871.1,1416.8 1872.6,1417.8 1874.1,1418.8 1875.6,1419.8 1877.1,1420.9 1878.5,1421.9 1880.0,1423.0 1881.4,1424.1 1882.8,1425.1 1884.3,1426.2 1885.7,1427.3 1887.1,1428.4 1888.5,1429.5 1889.9,1430.5 1891.4,1431.6 1892.8,1432.6 1894.3,1433.6 1895.8,1434.6 1897.3,1435.6 1898.8,1436.6 1900.3,1437.6 1901.8,1438.6 1903.4,1439.5 1904.9,1440.5 1906.5,1441.4 1908.0,1442.3 1909.6,1443.1 1911.3,1444.0 1913.0,1444.7 1914.8,1445.5 1916.5,1446.2 1918.3,1446.9 1920.1,1447.5 1922.0,1447.9 1924.3,1448.0 1926.8,1448.0 1929.3,1448.0 1931.8,1448.0 1934.3,1448.0 1936.8,1448.0 1939.3,1448.0 1941.8,1448.0 1944.3,1448.0 1946.8,1448.0 1949.3,1448.0 1951.5,1449.0 1953.0,1450.2 1954.2,1451.6 1955.4,1453.0 1956.5,1454.4 1957.6,1455.8 1958.7,1457.2 1959.8,1458.5 1961.0,1459.7 1962.2,1461.0 1963.4,1462.4 1964.6,1463.7 1965.8,1465.0 1967.0,1466.3 1968.1,1467.7 1969.3,1469.0 1970.5,1470.4 1971.6,1471.7 1972.8,1473.1 1973.9,1474.4 1975.1,1475.8 1976.2,1477.2 1977.3,1478.6 1978.4,1479.9 1979.6,1481.1 1980.9,1482.3 1982.1,1483.5 1983.4,1484.7 1984.8,1485.9 1986.1,1487.0 1987.5,1488.1 1988.8,1489.2 1990.3,1490.2 1991.8,1491.2 1993.4,1492.0 1995.0,1492.8 1996.7,1493.6 1998.5,1494.3 2000.3,1495.0 2002.1,1495.6 2004.0,1496.1 2006.0,1496.5 2008.2,1496.9 2010.3,1497.2 2012.5,1497.5 2014.8,1497.7 2017.0,1498.0 2019.3,1498.2 2021.5,1498.5 2023.7,1498.9 2025.8,1499.3 2027.8,1499.9 2029.8,1500.5 2031.6,1501.1 2033.4,1501.8 2035.2,1502.6 2037.0,1503.3 2038.8,1504.0 2040.6,1504.7 2042.4,1505.3 2044.3,1505.8 2046.3,1506.3 2048.4,1506.7 2050.5,1507.0 2052.7,1507.3 2054.9,1507.6 2057.2,1507.8 2059.4,1508.1 2061.7,1508.4 2063.8,1508.7 2066.0,1509.1 2068.1,1509.6 2070.1,1510.1 2072.0,1510.8 2073.8,1511.5 2075.6,1512.2 2077.4,1512.9 2079.2,1513.7 2080.9,1514.4 2082.7,1515.2 2084.4,1515.9 2086.2,1516.6 2088.0,1517.3 2089.8,1518.0 2091.6,1518.6 2093.5,1519.2 2095.4,1519.8 2097.3,1520.4 2099.2,1521.0 2101.1,1521.6 2103.0,1522.2 2104.9,1522.8 2106.8,1523.5 2108.6,1524.1 2110.5,1524.8 2112.3,1525.5 2114.1,1526.3 2115.8,1527.1 2117.4,1528.0 2119.1,1528.8 2120.7,1529.7 2122.4,1530.4 2124.2,1531.1 2126.0,1531.7 2128.0,1532.1 2130.2,1532.4 2132.4,1532.6 2134.7,1532.8 2135.9,1532.8"/>
<polyline stroke="#f00" points="261.0,1510.0 262.1,1508.6 263.1,1507.1 264.2,1505.7 265.2,1504.1 266.2,1502.6 267.2,1501.1 268.2,1499.6 269.2,1498.0 270.1,1496.5 271.1,1495.0 272.1,1493.5 273.1,1492.1 274.2,1490.7 275.3,1489.3 276.3,1487.8 277.4,1486.4 278.5,1485.1 279.6,1483.7 280.8,1482.5 282.1,1481.4 283.4,1480.4 285.1,1479.6 286.8,1479.0 288.7,1478.4 290.7,1477.9 292.6,1477.3 294.5,1476.6 296.3,1475.8 297.9,1474.6 299.1,1473.2 300.3,1471.7 301.3,1470.2 302.3,1468.7 303.3,1467.1 304.3,1465.6 305.3,1464.1 306.2,1462.6 307.3,1461.2 308.3,1459.7 309.3,1458.2 310.3,1456.6 311.3,1455.1 312.3,1453.6 313.3,1452.2 314.4,1450.8 315.5,1449.5 316.7,1448.3 318.0,1447.2 319.4,1446.0 320.7,1444.9 322.1,1443.9 323.6,1442.9 325.1,1442.1 326.8,1441.4 328.8,1441.2 331.2,1442.0 332.8,1443.0 334.4,1443.7 336.2,1444.0 338.7,1444.0 341.2,1444.0 343.7,1444.0 346.2,1444.0 348.7,1444.0 351.2,1444.0 353.7,1444.0 356.2,1444.0 358.7,1444.0 361.2,1444.0 363.7,1444.0 366.2,1444.0 368.7,1443.6 370.5,1442.8 372.2,1441.9 373.9,1441.3 375.9,1441.2 378.3,1441.5 380.4,1442.0 382.4,1442.5 384.3,1443.1 386.2,1443.8 388.1,1444.6 389.6,1445.6 391.1,1446.6 392.7,1447.1 395.1,1447.1 397.6,1447.1 400.1,1447.1 402.6,1447.1 405.1,1447.1 407.6,1447.1 410.1,1447.1 412.6,1447.0 414.7,1446.2 416.3,1445.2 417.8,1444.3 419.5,1443.7 421.5,1443.7 423.9,1444.0 425.9,1444.5 427.9,1445.1 429.8,1445.8 431.6,1446.5 433.4,1447.1 435.2,1448.0 436.8,1448.9 438.4,1449.9 439.9,1450.9 441.4,1451.9 442.9,1452.9 444.4,1453.9 446.0,1454.7 447.6,1455.5 449.4,1456.2 451.1,1457.0 452.9,1457.7 454.7,1458.4 456.4,1459.2 458.1,1460.0 459.8,1460.9 461.4,1461.8 463.0,1462.8 464.4,1463.9 465.9,1465.0 467.3,1466.1 468.6,1467.3 470.0,1468.5 471.3,1469.7 472.6,1470.9 473.9,1472.1 475.1,1473.4 476.4,1474.7 477.6,1476.1 478.7,1477.5 479.8,1479.0 480.8,1480.4 481.9,1481.9 482.9,1483.3 484.0,1484.6 485.2,1485.9 486.4,1487.1 487.7,1488.2 489.1,1489.3 490.5,1490.4 491.9,1491.4 493.4,1492.4 494.9,1493.4 496.4,1494.4 497.9,1495.4 499.4,1496.3 501.0,1497.3 502.5,1498.3 503.9,1499.4 505.4,1500.4 506.9,1501.4 508.4,1502.4 509.9,1503.4 511.4,1504.4 512.9,1505.4 514.4,1506.4 515.9,1507.4 517.4,1508.4 518.9,1509.5 520.3,1510.6 521.6,1511.7 523.0,1512.8 524.5,1513.7 526.2,1514.3 528.1,1514.5 530.6,1514.5 533.1,1514.5 535.6,1514.5 538.1,1514.5 540.6,1514.5 543.1,1514.0 544.9,1513.2 546.6,1512.3 548.2,1511.3 549.7,1510.4 551.3,1509.5 552.9,1508.8 554.7,1508.0 556.4,1507.2 558.1,1506.4 559.8,1505.6 561.6,1505.0 563.4,1504.4 565.5,1504.1 567.8,1503.9 570.1,1503.8 572.4,1503.6 574.8,1503.5 577.1,1503.3 579.4,1503.0 581.5,1502.6 583.6,1502.0 585.5,1501.4 587.4,1500.7 589.2,1500.0 590.9,1499.2 592.7,1498.5 594.4,1497.6 596.0,1496.8 597.7,1496.0 599.4,1495.1 601.0,1494.3 602.6,1493.4 604.2,1492.4 605.8,1491.4 607.2,1490.4 608.7,1489.3 610.2,1488.2 611.6,1487.1 613.0,1486.0 614.4,1484.9 615.7,1483.7 617.1,1482.6 618.4,1481.4 619.7,1480.1 621.0,1478.8 622.2,1477.6 623.4,1476.2 624.6,1474.9 625.8,1473.6 626.9,1472.3 628.1,1470.9 629.3,1469.6 630.4,1468.2 631.6,1466.9 632.8,1465.6 633.9,1464.3 635.1,1463.0 636.3,1461.7 637.5,1460.4 638.7,1459.1 640.0,1457.8 641.2,1456.5 642.4,1455.2 643.6,1453.9 644.7,1452.6 645.9,1451.3 647.1,1449.9 648.3,1448.6 649.4,1447.2 650.6,1445.9 651.7,1444.5 652.8,1443.1 653.9,1441.6 655.0,1440.2 656.0,1438.7 657.1,1437.2 658.1,1435.7 659.1,1434.2 660.1,1432.7 661.1,1431.3 662.1,1429.8 663.1,1428.3 664.1,1426.8 665.2,1425.4 666.2,1423.9 667.3,1422.5 668.4,1421.1 669.4,1419.7 670.5,1418.2 671.6,1416.8 672.7,1415.4 673.8,1414.0 674.9,1412.6 676.0,1411.3 677.1,1409.9 678.2,1408.6 679.4,1407.2 680.6,1405.9 681.8,1404.7 683.0,1403.5 684.3,1402.3 685.6,1401.1 686.9,1399.9 688.3,1398.8 689.7,1397.7 691.1,1396.6 692.5,1395.5 693.9,1394.4 695.3,1393.3 696.6,1392.2 698.0,1391.0 699.3,1389.8 700.6,1388.5 701.9,1387.3 703.1,1386.0 704.3,1384.6 705.4,1383.2 706.5,1381.7 707.6,1380.2 708.6,1378.6 709.5,1377.1 710.4,1375.5 711.3,1373.8 712.2,1372.2 713.1,1370.6 714.0,1369.0 714.9,1367.4 715.8,1365.8 716.7,1364.2 717.6,1362.6 718.5,1361.0 719.4,1359.5 720.4,1358.0 721.3,1356.4 722.3,1354.9 723.3,1353.4 724.3,1351.9 725.2,1350.3 726.2,1348.8 727.2,1347.3 728.2,1345.8 729.1,1344.2 730.1,1342.7 731.0,1341.1 732.0,1339.6 732.9,1338.0 733.9,1336.4 734.8,1334.8 735.7,1333.3 736.7,1331.7 737.6,1330.1 738.5,1328.5 739.4,1327.0 740.3,1325.4 741.3,1323.8 742.2,1322.3 743.1,1320.7 744.1,1319.2 745.0,1317.6 746.0,1316.1 747.0,1314.5 747.9,1313.0 748.9,1311.4 749.8,1309.9 750.8,1308.4 751.8,1306.9 752.8,1305.5 753.9,1304.2 755.0,1302.9 756.2,1301.6 757.4,1300.3 758.6,1299.1 760.0,1298.0 761.4,1297.2 763.3,1296.8 765.3,1296.4 767.5,1296.1 769.7,1295.8 772.0,1295.6 774.3,1295.5 776.6,1295.3 779.0,1295.2 781.4,1295.2 783.8,1295.0 786.2,1294.9 788.5,1294.4 790.2,1293.3 791.7,1292.1 793.0,1290.8 794.2,1289.5 795.3,1288.1 796.4,1286.7 797.5,1285.3 798.6,1283.7 799.6,1282.1 800.5,1280.5 801.4,1278.7 802.2,1277.0 803.0,1275.3 803.8,1273.5 804.5,1271.7 805.2,1269.9 805.9,1268.1 806.6,1266.3 807.3,1264.4 808.0,1262.6 808.7,1260.7 809.3,1258.8 809.9,1256.9 810.6,1255.0 811.2,1253.1 811.8,1251.1 812.4,1249.0 813.0,1246.8 813.6,1244.5 814.2,1242.1 814.8,1239.6 815.4,1237.0 816.0,1234.2 816.6,1231.1 817.2,1227.8 817.8,1224.1 818.4,1220.4 819.0,1216.4 819.6,1212.4 820.2,1208.3 820.8,1204.3 821.4,1200.2 822.0,1196.3 822.6,1192.3 823.2,1188.3 823.8,1184.3 824.4,1180.2 825.0,1176.0 825.6,1171.8 826.2,1167.4 826.8,1163.0 827.4,1158.3 828.0,1153.6 828.6,1148.6 829.2,1143.4 829.8,1138.0 830.4,1132.3 831.0,1126.5 831.6,1120.4 832.2,1114.2 832.8,1107.8 833.4,1101.3 834.0,1094.8 834.6,1088.1 835.2,1081.3 835.8,1074.3 836.4,1067.1 837.0,1059.8 837.6,1052.2 838.2,1044.5 838.8,1036.5 839.4,1028.4 840.0,1020.0 840.6,1011.1 841.2,1002.0 841.8,992.6 842.4,983.2 843.0,973.8 843.6,964.5 844.2,955.4 844.8,946.4 845.4,937.5 846.0,928.5 846.6,919.6 847.2,910.7 847.8,901.8 848.4,892.9 849.0,883.9 849.6,874.5 850.2,864.8 850.8,854.9 851.4,845.1 852.0,835.9 852.6,827.3 853.2,819.7 853.8,813.4 854.4,807.8 855.0,802.6 855.6,797.7 856.2,793.2 856.8,789.0 857.4,784.9 858.0,781.0 858.6,777.2 859.2,773.5 859.8,769.7 860.4,766.0 861.0,762.4 861.6,758.9 862.2,755.8 862.8,753.0 863.4,750.5 864.0,747.9 864.6,745.6 865.2,744.2 866.2,745.1 866.9,747.4 867.5,749.9 868.1,752.3 868.7,754.4 869.3,756.6 869.9,758.8 870.5,761.2 871.1,763.7 871.7,766.5 872.3,769.6 872.9,773.1 873.5,777.3 874.1,782.0 874.7,787.3 875.3,793.0 875.9,799.1 876.5,805.3 877.1,811.6 877.7,818.1 878.3,825.0 878.9,832.4 879.5,840.1 880.1,848.0 880.7,856.0 881.3,864.0 881.9,871.7 882.5,879.3 883.1,886.8 883.7,894.2 884.3,901.6 884.9,909.0 885.5,916.5 886.1,923.9 886.7,931.3 887.3,938.7 887.9,946.2 888.5,953.6 889.1,961.0 889.7,968.5 890.3,975.9 890.9,983.4 891.5,990.9 892.1,998.5 892.7,1006.4 893.3,1014.5 893.9,1022.7 894.5,1030.7 895.1,1038.3 895.7,1045.5 896.3,1051.9 896.9,1057.7 897.5,1063.3 898.1,1068.5 898.7,1073.6 899.3,1078.4 899.9,1083.0 900.5,1087.4 901.1,1091.7 901.7,1095.9 902.3,1099.9 902.9,1103.9 903.5,1107.8 904.1,1111.6 904.7,1115.4 905.3,1119.0 905.9,1122.6 906.5,1126.0 907.1,1129.3 907.7,1132.5 908.3,1135.5 908.9,1138.4 909.5,1141.1 910.1,1143.8 910.7,1146.4 911.3,1149.0 911.9,1151.6 912.5,1154.1 913.1,1156.6 913.7,1159.0 914.3,1161.4 914.9,1163.7 915.5,1165.8 916.1,1167.9 916.7,1169.8 917.3,1171.7 917.9,1173.4 918.6,1175.2 919.3,1176.8 920.2,1178.3 921.1,1179.8 922.1,1181.2 923.1,1182.6 924.2,1184.0 925.4,1185.3 926.6,1186.5 927.8,1187.7 929.1,1188.9 930.5,1190.1 931.8,1191.2 933.2,1192.4 934.5,1193.6 935.8,1194.8 937.1,1196.0 938.3,1197.3 939.6,1198.5 940.9,1199.7 942.1,1200.9 943.4,1202.1 944.7,1203.3 946.0,1204.5 947.3,1205.7 948.6,1206.9 950.0,1208.1 951.3,1209.2 952.6,1210.4 953.9,1211.6 955.2,1212.8 956.5,1214.0 957.9,1215.2 959.2,1216.3 960.5,1217.5 961.9,1218.6 963.3,1219.7 964.7,1220.7 966.1,1221.7 967.7,1222.7 969.2,1223.6 970.8,1224.5 972.4,1225.3 974.1,1226.2 975.7,1227.0 977.4,1227.8 979.1,1228.6 980.8,1229.4 982.6,1230.2 984.3,1230.9 986.0,1231.7 987.7,1232.5 989.5,1233.2 991.2,1234.0 993.0,1234.7 994.7,1235.4 996.5,1236.2 998.3,1236.9 1000.0,1237.7 1001.7,1238.5 1003.4,1239.3 1005.1,1240.2 1006.7,1241.1 1008.3,1242.0 1009.9,1242.9 1011.5,1243.8 1013.1,1244.6 1014.8,1245.3 1016.6,1246.0 1018.5,1246.5 1020.6,1246.9 1022.7,1247.3 1024.8,1247.6 1027.0,1248.0 1029.1,1248.4 1031.2,1248.8 1033.2,1249.5 1035.0,1250.3 1036.6,1251.4 1038.0,1252.6 1039.2,1253.9 1040.5,1255.2 1041.7,1256.5 1042.9,1257.8 1044.1,1259.1 1045.3,1260.3 1046.6,1261.6 1047.8,1262.9 1049.1,1264.1 1050.3,1265.4 1051.5,1266.8 1052.7,1268.1 1053.8,1269.4 1055.0,1270.8 1056.1,1272.1 1057.3,1273.5 1058.4,1275.0 1059.5,1276.4 1060.5,1277.9 1061.5,1279.4 1062.5,1280.9 1063.6,1282.3 1064.6,1283.8 1065.7,1285.2 1066.8,1286.5 1067.9,1287.8 1069.1,1289.1 1070.3,1290.4 1071.5,1291.7 1072.7,1293.0 1073.9,1294.2 1075.2,1295.4 1076.5,1296.6 1077.8,1297.7 1079.2,1298.8 1080.7,1299.8 1082.1,1300.8 1083.7,1301.7 1085.2,1302.7 1086.8,1303.6 1088.4,1304.4 1090.0,1305.3 1091.7,1306.1 1093.4,1306.9 1095.1,1307.7 1096.8,1308.4 1098.6,1309.1 1100.4,1309.9 1102.1,1310.6 1103.9,1311.3 1105.8,1311.9 1107.6,1312.6 1109.4,1313.3 1111.3,1313.9 1113.1,1314.6 1114.9,1315.2 1116.8,1315.9 1118.7,1316.5 1120.6,1317.1 1122.5,1317.7 1124.4,1318.3 1126.3,1318.8 1128.2,1319.4 1130.1,1320.0 1132.0,1320.6 1133.9,1321.2 1135.8,1321.8 1137.7,1322.4 1139.6,1323.1 1141.5,1323.7 1143.3,1324.3 1145.2,1325.0 1147.1,1325.6 1148.9,1326.2 1150.8,1326.8 1152.7,1327.4 1154.6,1328.0 1156.6,1328.5 1158.5,1329.1 1160.5,1329.6 1162.5,1330.0 1164.6,1330.5 1166.6,1330.9 1168.7,1331.4 1170.7,1331.8 1172.8,1332.2 1174.9,1332.6 1177.0,1333.0 1179.1,1333.4 1181.2,1333.8 1183.3,1334.2 1185.5,1334.5 1187.6,1334.9 1189.7,1335.3 1191.8,1335.7 1193.9,1336.1 1196.0,1336.6 1198.0,1337.0 1200.1,1337.5 1202.1,1338.0 1204.1,1338.4 1206.1,1338.9 1208.2,1339.4 1210.2,1339.8 1212.3,1340.2 1214.4,1340.6 1216.5,1340.9 1218.7,1341.2 1221.0,1341.4 1223.4,1341.5 1225.7,1341.6 1228.1,1341.7 1230.5,1341.8 1232.9,1341.9 1235.3,1342.0 1237.7,1342.2 1240.0,1342.4 1242.3,1342.7 1244.4,1343.2 1246.3,1343.9 1248.1,1344.6 1249.9,1345.3 1251.7,1346.1 1253.5,1346.7 1255.3,1347.3 1257.3,1347.7 1259.5,1347.9 1262.0,1347.8 1264.3,1347.7 1266.7,1347.5 1268.9,1347.2 1271.2,1347.0 1273.4,1346.7 1275.7,1346.5 1277.9,1346.2 1280.2,1346.1 1282.6,1346.0 1285.1,1346.1 1287.4,1346.3 1289.6,1346.6 1291.8,1347.0 1293.8,1347.5 1295.8,1348.0 1297.9,1348.5 1299.9,1349.0 1301.9,1349.4 1304.0,1349.8 1306.0,1350.4 1308.0,1350.9 1309.9,1351.5 1311.9,1352.0 1313.8,1352.5 1315.8,1353.0 1317.9,1353.3 1320.1,1353.6 1322.5,1353.6 1324.7,1353.2 1326.8,1352.7 1328.7,1352.1 1330.7,1351.7 1332.8,1351.4 1335.2,1351.4 1337.6,1351.6 1340.0,1351.8 1342.2,1352.1 1344.4,1352.5 1346.5,1352.9 1348.6,1353.3 1350.6,1353.8 1352.6,1354.5 1354.3,1355.4 1355.9,1356.4 1357.4,1357.4 1358.9,1358.4 1360.4,1359.3 1362.0,1360.2 1363.6,1361.1 1365.2,1362.0 1366.8,1362.9 1368.4,1363.7 1370.1,1364.6 1371.7,1365.5 1373.3,1366.4 1374.9,1367.2 1376.6,1368.1 1378.2,1369.0 1379.8,1369.9 1381.4,1370.8 1383.0,1371.7 1384.6,1372.6 1386.2,1373.6 1387.7,1374.5 1389.2,1375.5 1390.8,1376.5 1392.3,1377.5 1393.8,1378.5 1395.3,1379.5 1396.7,1380.6 1398.2,1381.6 1399.7,1382.6 1401.2,1383.6 1402.7,1384.6 1404.2,1385.6 1405.7,1386.5 1407.2,1387.5 1408.8,1388.4 1410.4,1389.3 1411.9,1390.3 1413.5,1391.3 1415.0,1392.3 1416.5,1393.3 1418.0,1394.2 1419.6,1395.0 1421.3,1395.6 1423.3,1396.0 1425.6,1396.0 1428.1,1395.9 1430.5,1395.7 1432.8,1395.5 1435.1,1395.1 1436.9,1394.2 1438.5,1393.2 1439.9,1392.0 1441.3,1390.9 1442.7,1389.7 1444.0,1388.6 1445.4,1387.5 1446.8,1386.3 1448.1,1385.2 1449.5,1384.0 1450.8,1382.8 1452.1,1381.6 1453.3,1380.3 1454.6,1379.1 1455.8,1377.8 1457.0,1376.5 1458.2,1375.2 1459.4,1373.8 1460.6,1372.5 1461.8,1371.1 1462.9,1369.8 1464.0,1368.4 1465.1,1366.9 1466.2,1365.5 1467.3,1364.0 1468.3,1362.5 1469.3,1361.1 1470.4,1359.6 1471.4,1358.1 1472.4,1356.6 1473.4,1355.0 1474.4,1353.5 1475.3,1352.0 1476.3,1350.5 1477.3,1348.9 1478.3,1347.4 1479.2,1345.8 1480.1,1344.2 1481.0,1342.5 1481.9,1340.9 1482.8,1339.3 1483.7,1337.7 1484.6,1336.1 1485.5,1334.5 1486.4,1333.0 1487.3,1331.5 1488.3,1330.0 1489.3,1328.5 1490.3,1327.1 1491.4,1325.7 1492.5,1324.4 1493.7,1323.0 1494.8,1321.6 1495.9,1320.3 1497.1,1319.0 1498.3,1317.7 1499.5,1316.5 1500.8,1315.3 1502.2,1314.3 1503.6,1313.3 1505.1,1312.4 1506.8,1311.6 1508.5,1310.8 1510.2,1310.1 1511.9,1309.4 1513.8,1308.7 1515.7,1308.3 1517.8,1308.0 1520.1,1307.9 1522.4,1308.3 1524.5,1308.8 1526.5,1309.3 1528.4,1309.8 1530.5,1310.1 1532.7,1310.3 1535.0,1310.5 1537.4,1310.6 1539.8,1310.7 1542.1,1310.9 1544.4,1311.3 1546.5,1311.9 1548.3,1312.6 1550.0,1313.4 1551.7,1314.3 1553.3,1315.2 1554.9,1316.1 1556.5,1317.0 1558.1,1317.9 1559.7,1318.9 1561.2,1319.9 1562.7,1320.9 1564.2,1321.9 1565.7,1323.0 1567.1,1324.0 1568.5,1325.1 1570.0,1326.2 1571.4,1327.3 1572.7,1328.4 1574.1,1329.6 1575.5,1330.8 1576.8,1332.1 1578.0,1333.4 1579.2,1334.7 1580.4,1336.0 1581.5,1337.4 1582.7,1338.7 1583.9,1339.9 1585.1,1341.2 1586.4,1342.3 1587.7,1343.4 1589.2,1344.4 1590.8,1345.1 1592.5,1345.8 1594.4,1346.3 1596.4,1346.8 1598.5,1347.3 1600.4,1347.9 1602.2,1348.7 1603.8,1349.8 1605.3,1350.9 1606.7,1352.0 1608.0,1353.3 1609.3,1354.5 1610.6,1355.7 1611.8,1356.9 1613.1,1358.1 1614.5,1359.2 1615.8,1360.5 1617.1,1361.8 1618.3,1363.1 1619.5,1364.4 1620.7,1365.6 1622.0,1366.7 1623.4,1367.7 1625.0,1368.4 1627.0,1368.5 1629.5,1368.5 1632.0,1368.5 1634.5,1368.5 1637.0,1368.5 1639.5,1367.8 1641.0,1366.6 1642.4,1365.4 1643.7,1364.2 1645.0,1363.1 1646.3,1361.9 1647.6,1360.6 1648.9,1359.3 1650.1,1358.0 1651.3,1356.7 1652.4,1355.3 1653.6,1354.0 1654.7,1352.6 1655.9,1351.2 1657.0,1349.9 1658.1,1348.5 1659.3,1347.1 1660.4,1345.7 1661.5,1344.3 1662.5,1342.8 1663.6,1341.4 1664.6,1339.9 1665.7,1338.4 1666.7,1337.0 1667.7,1335.5 1668.8,1334.1 1669.9,1332.8 1671.0,1331.4 1672.2,1330.1 1673.4,1328.9 1674.7,1327.7 1676.0,1326.6 1677.3,1325.5 1678.7,1324.4 1680.1,1323.3 1681.6,1322.3 1683.1,1321.4 1684.6,1320.5 1686.3,1319.6 1687.9,1318.7 1689.5,1317.9 1691.2,1317.2 1693.1,1316.9 1695.6,1316.9 1698.1,1316.9 1700.6,1316.9 1703.1,1316.9 1705.6,1316.9 1708.1,1316.9 1710.6,1316.9 1713.1,1316.9 1715.6,1316.9 1718.1,1316.9 1720.6,1317.4 1722.2,1318.3 1723.9,1318.8 1726.1,1319.0 1728.4,1319.2 1730.8,1319.3 1733.2,1319.5 1735.4,1319.9 1737.3,1320.8 1738.8,1321.8 1740.4,1322.6 1742.2,1323.1 1744.2,1323.6 1746.2,1324.1 1748.3,1324.6 1750.2,1325.2 1752.1,1326.0 1753.8,1326.8 1755.5,1327.6 1757.2,1328.3 1759.0,1328.8 1761.0,1329.1 1763.4,1329.3 1765.8,1329.3 1768.2,1329.4 1770.6,1329.4 1773.1,1329.5 1775.5,1329.6 1777.9,1329.7 1780.3,1330.1 1782.0,1331.2 1783.4,1332.1 1785.1,1332.6 1787.6,1332.6 1790.1,1332.6 1792.6,1332.6 1795.1,1332.6 1797.6,1332.6 1800.1,1332.6 1802.6,1332.6 1805.1,1332.8 1807.0,1333.6 1808.7,1334.5 1810.3,1335.4 1811.9,1336.1 1813.8,1336.7 1815.7,1337.2 1817.8,1337.6 1819.8,1338.1 1821.9,1338.5 1823.9,1339.0 1825.9,1339.6 1827.8,1340.3 1829.6,1341.1 1831.3,1341.9 1832.9,1342.8 1834.5,1343.7 1836.1,1344.6 1837.7,1345.5 1839.4,1346.3 1841.0,1347.1 1842.8,1347.8 1844.6,1348.4 1846.5,1349.1 1848.3,1349.7 1850.2,1350.4 1852.0,1351.1 1853.7,1352.0 1855.3,1353.0 1856.8,1353.9 1858.4,1354.9 1859.9,1355.8 1861.6,1356.6 1863.2,1357.5 1864.9,1358.3 1866.6,1359.1 1868.3,1359.8 1870.1,1360.4 1872.0,1360.9 1874.1,1361.3 1876.2,1361.6 1878.5,1361.8 1880.7,1362.1 1883.0,1362.3 1885.2,1362.6 1887.4,1363.0 1889.4,1363.6 1891.3,1364.3 1893.1,1365.1 1894.8,1365.9 1896.5,1366.7 1898.2,1367.5 1899.8,1368.3 1901.5,1369.1 1903.3,1369.8 1905.2,1370.3 1907.2,1370.7 1909.4,1370.8 1911.9,1370.8 1914.4,1370.8 1916.9,1370.8 1919.4,1370.8 1921.9,1370.8 1924.2,1371.6 1925.8,1372.5 1927.4,1373.4 1929.2,1373.7 1931.5,1373.9 1933.9,1373.9 1936.4,1374.0 1938.8,1374.0 1941.3,1374.1 1943.7,1374.1 1946.2,1374.2 1948.6,1374.3 1951.0,1374.5 1952.8,1375.6 1954.2,1376.7 1955.8,1377.3 1958.0,1377.3 1960.5,1377.3 1963.0,1377.3 1965.5,1377.3 1968.0,1377.3 1970.5,1377.3 1973.0,1377.5 1974.9,1378.5 1976.4,1379.8 1977.6,1381.0 1978.9,1382.3 1980.1,1383.6 1981.3,1384.9 1982.5,1386.0 1983.9,1387.0 1985.4,1388.1 1986.9,1389.1 1988.3,1390.1 1989.8,1391.1 1991.3,1392.1 1992.8,1393.1 1994.4,1394.0 1995.9,1395.0 1997.5,1395.9 1999.1,1396.8 2000.7,1397.6 2002.4,1398.4 2004.1,1399.1 2005.9,1399.9 2007.6,1400.5 2009.5,1401.2 2011.3,1401.8 2013.2,1402.4 2015.1,1403.0 2017.0,1403.6 2018.9,1404.2 2020.9,1404.7 2022.8,1405.3 2024.8,1405.9 2026.7,1406.4 2028.6,1407.0 2030.5,1407.6 2032.4,1408.2 2034.3,1408.9 2036.1,1409.5 2038.0,1410.2 2039.9,1410.8 2041.7,1411.5 2043.6,1412.1 2045.4,1412.8 2047.3,1413.4 2049.1,1414.1 2050.9,1414.7 2052.8,1415.4 2054.6,1416.0 2056.5,1416.7 2058.4,1417.3 2060.2,1417.9 2062.1,1418.6 2064.0,1419.2 2065.8,1419.8 2067.7,1420.4 2069.6,1421.0 2071.5,1421.6 2073.4,1422.2 2075.3,1422.9 2077.2,1423.5 2079.1,1424.1 2081.0,1424.7 2082.8,1425.3 2084.7,1425.9 2086.6,1426.6 2088.5,1427.2 2090.3,1427.9 2092.2,1428.5 2094.0,1429.2 2095.9,1429.8 2097.7,1430.5 2099.5,1431.2 2101.4,1431.8 2103.2,1432.5 2105.0,1433.2 2106.8,1433.9 2108.6,1434.6 2110.4,1435.2 2112.3,1435.9 2114.1,1436.6 2115.9,1437.3 2117.6,1438.1 2119.4,1438.9 2121.1,1439.8 2122.7,1440.6 2124.3,1441.4 2126.2,1441.8 2128.5,1441.8 2131.0,1441.8 2133.5,1441.8 2135.9,1441.8"/>
</g>
<g stroke="#000" stroke-width="6.1" fill="none">
<line x1="261.6" y1="51.7" x2="261.6" y2="1593"/>
<line x1="258.35" y1="1565.6" x2="2139.2" y2="1565.6"/>
<line x1="261.6" y1="1565.6" x2="261.6" y2="1593"/><line x1="495.9" y1="1565.6" x2="495.9" y2="1580.5"/><line x1="730.2" y1="1565.6" x2="730.2" y2="1593"/><line x1="964.5" y1="1565.6" x2="964.5" y2="1580.5"/><line x1="1198.8" y1="1565.6" x2="1198.8" y2="1593"/><line x1="1433.1" y1="1565.6" x2="1433.1" y2="1580.5"/><line x1="1667.4" y1="1565.6" x2="1667.4" y2="1593"/><line x1="1901.7" y1="1565.6" x2="1901.7" y2="1580.5"/><line x1="2136.0" y1="1565.6" x2="2136.0" y2="1593"/><line x1="231" y1="1541.7" x2="261.6" y2="1541.7"/><line x1="246" y1="1293.9" x2="261.6" y2="1293.9"/><line x1="231" y1="1046.1" x2="261.6" y2="1046.1"/><line x1="246" y1="798.3" x2="261.6" y2="798.3"/><line x1="231" y1="550.6" x2="261.6" y2="550.6"/><line x1="246" y1="302.8" x2="261.6" y2="302.8"/><line x1="231" y1="55.0" x2="261.6" y2="55.0"/>
</g>
<g class="tl"><text x="261.6" y="1665.3" text-anchor="middle">300</text><text x="730.2" y="1665.3" text-anchor="middle">400</text><text x="1198.8" y="1665.3" text-anchor="middle">500</text><text x="1667.4" y="1665.3" text-anchor="middle">600</text><text x="2136.0" y="1665.3" text-anchor="middle">700</text><text x="211" y="1558.7" text-anchor="end">0.0</text><text x="211" y="1063.1" text-anchor="end">0.1</text><text x="211" y="567.6" text-anchor="end">0.2</text><text x="211" y="72.0" text-anchor="end">0.3</text></g>
<text transform="translate(1086,1796) scale(1.2,1)" style="font-family:'Liberation Serif',serif;font-size:77px">λ</text>
<text x="1149.5" y="1796" font-size="80">(nm)</text>
<text transform="translate(89.5,1119) rotate(-90)" font-size="78.4">Absorbance (a.u.)</text>
<g class="lg">
<rect x="1283" y="226" width="742" height="403" fill="#fff" stroke="none"/>
<line x1="2025.3" y1="225" x2="2025.3" y2="631" stroke="#b0b0b0" stroke-width="3.1"/>
<line x1="1281.7" y1="629.3" x2="2026.9" y2="629.3" stroke="#666" stroke-width="3.4"/>
<line x1="1281.7" y1="226.3" x2="2026.9" y2="226.3" stroke="#3c3c3c" stroke-width="3.1"/>
<line x1="1283.2" y1="224.8" x2="1283.2" y2="631" stroke="#333" stroke-width="3.1"/>
<line x1="1307" y1="282" x2="1486" y2="282" stroke="#000" stroke-width="6"/>
<line x1="1307" y1="378.5" x2="1486" y2="378.5" stroke="#0f0" stroke-width="6"/>
<line x1="1307" y1="475" x2="1486" y2="475" stroke="#00f" stroke-width="6"/>
<line x1="1307" y1="571" x2="1486" y2="571" stroke="#f00" stroke-width="6"/>
<text x="1504.5" y="306">ZnO</text>
<text x="1504.5" y="402.5">SnP@ZnO</text>
<text x="1504.5" y="499">SnP/AA@ZnO</text>
<text x="1504.5" y="595">SnP</text>
</g>
</svg>
</body></html>
